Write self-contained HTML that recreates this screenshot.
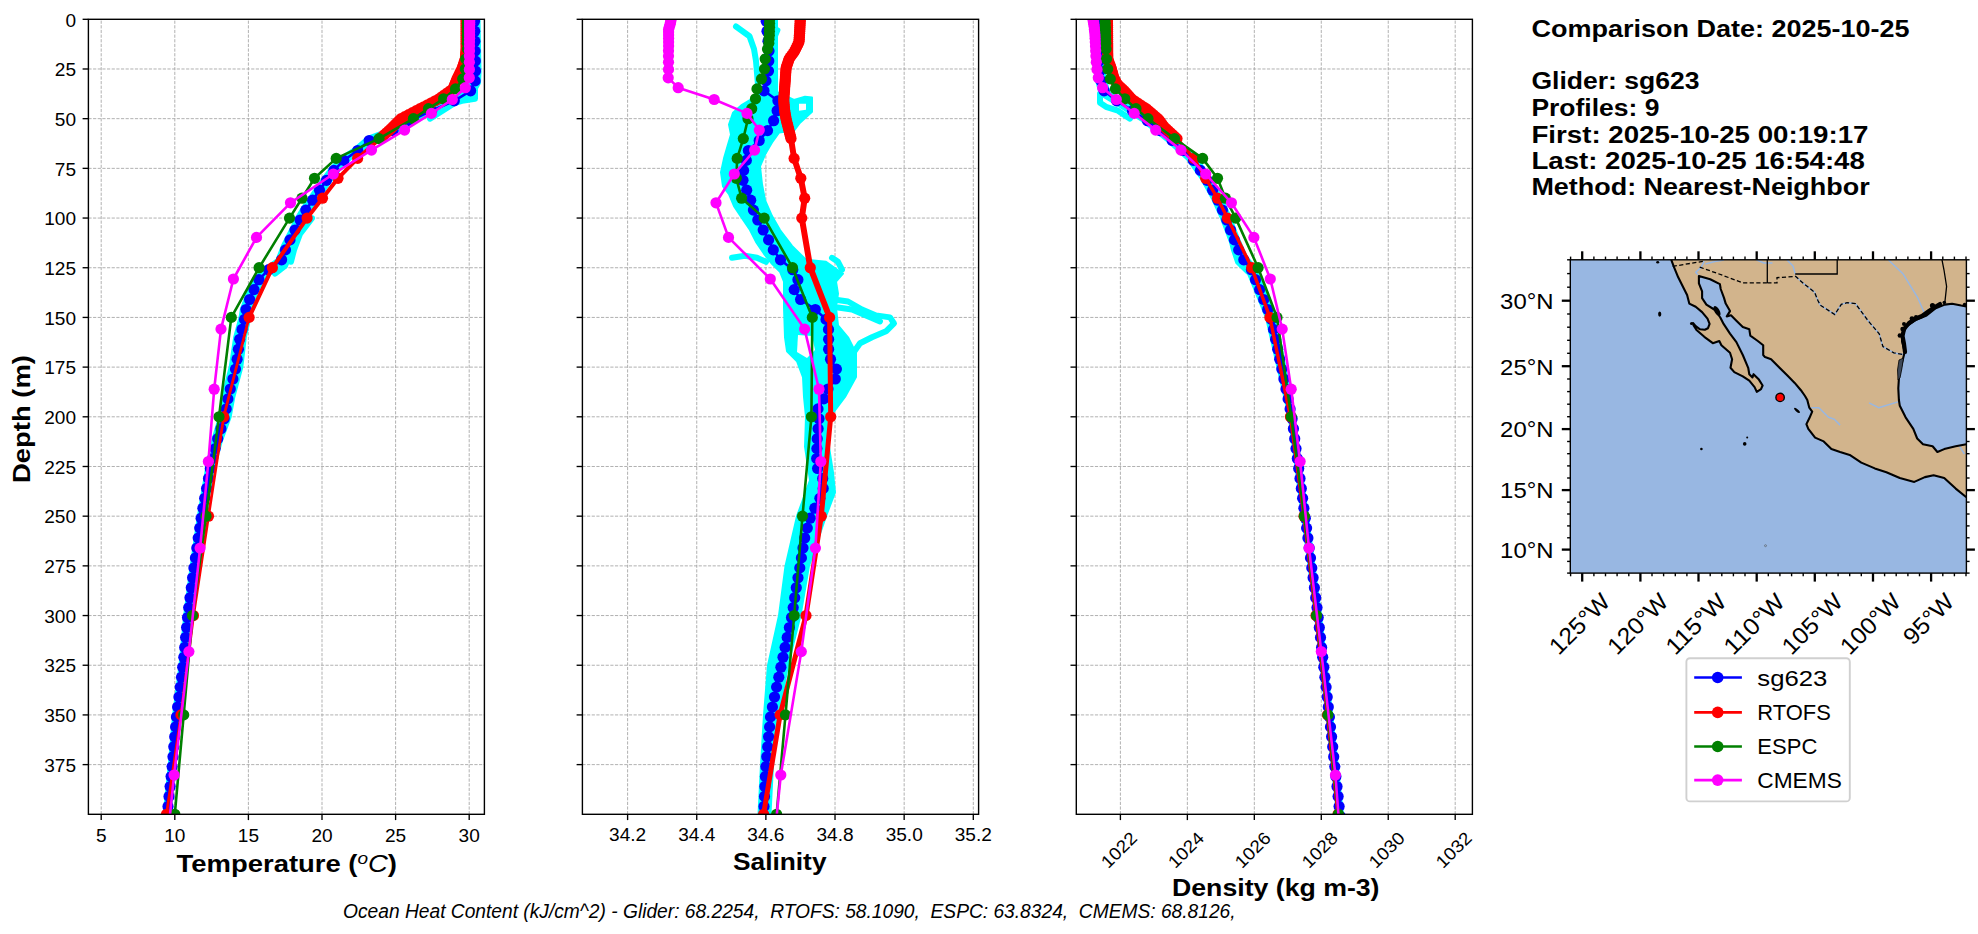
<!DOCTYPE html>
<html><head><meta charset="utf-8"><title>Profile comparison</title>
<style>html,body{margin:0;padding:0;background:#fff;overflow:hidden}svg{display:block}text{font-family:"Liberation Sans",sans-serif}</style>
</head><body>
<svg width="1978" height="934" viewBox="0 0 1978 934" font-family='"Liberation Sans", sans-serif'><defs><clipPath id="c0"><rect x="88.4" y="19.3" width="396.0" height="795.0"/></clipPath><clipPath id="c1"><rect x="582.4" y="19.3" width="396.20000000000005" height="795.0"/></clipPath><clipPath id="c2"><rect x="1076.3" y="19.3" width="396.10000000000014" height="795.0"/></clipPath></defs>
<rect x="0" y="0" width="1978" height="934" fill="#ffffff"/>
<line x1="88.4" y1="68.99" x2="484.4" y2="68.99" stroke="#a8a8a8" stroke-width="0.9" stroke-dasharray="3.2,1.45" fill="none"/>
<line x1="88.4" y1="118.67" x2="484.4" y2="118.67" stroke="#a8a8a8" stroke-width="0.9" stroke-dasharray="3.2,1.45" fill="none"/>
<line x1="88.4" y1="168.36" x2="484.4" y2="168.36" stroke="#a8a8a8" stroke-width="0.9" stroke-dasharray="3.2,1.45" fill="none"/>
<line x1="88.4" y1="218.05" x2="484.4" y2="218.05" stroke="#a8a8a8" stroke-width="0.9" stroke-dasharray="3.2,1.45" fill="none"/>
<line x1="88.4" y1="267.74" x2="484.4" y2="267.74" stroke="#a8a8a8" stroke-width="0.9" stroke-dasharray="3.2,1.45" fill="none"/>
<line x1="88.4" y1="317.43" x2="484.4" y2="317.43" stroke="#a8a8a8" stroke-width="0.9" stroke-dasharray="3.2,1.45" fill="none"/>
<line x1="88.4" y1="367.11" x2="484.4" y2="367.11" stroke="#a8a8a8" stroke-width="0.9" stroke-dasharray="3.2,1.45" fill="none"/>
<line x1="88.4" y1="416.80" x2="484.4" y2="416.80" stroke="#a8a8a8" stroke-width="0.9" stroke-dasharray="3.2,1.45" fill="none"/>
<line x1="88.4" y1="466.49" x2="484.4" y2="466.49" stroke="#a8a8a8" stroke-width="0.9" stroke-dasharray="3.2,1.45" fill="none"/>
<line x1="88.4" y1="516.17" x2="484.4" y2="516.17" stroke="#a8a8a8" stroke-width="0.9" stroke-dasharray="3.2,1.45" fill="none"/>
<line x1="88.4" y1="565.86" x2="484.4" y2="565.86" stroke="#a8a8a8" stroke-width="0.9" stroke-dasharray="3.2,1.45" fill="none"/>
<line x1="88.4" y1="615.55" x2="484.4" y2="615.55" stroke="#a8a8a8" stroke-width="0.9" stroke-dasharray="3.2,1.45" fill="none"/>
<line x1="88.4" y1="665.24" x2="484.4" y2="665.24" stroke="#a8a8a8" stroke-width="0.9" stroke-dasharray="3.2,1.45" fill="none"/>
<line x1="88.4" y1="714.92" x2="484.4" y2="714.92" stroke="#a8a8a8" stroke-width="0.9" stroke-dasharray="3.2,1.45" fill="none"/>
<line x1="88.4" y1="764.61" x2="484.4" y2="764.61" stroke="#a8a8a8" stroke-width="0.9" stroke-dasharray="3.2,1.45" fill="none"/>
<line x1="101.20" y1="814.3" x2="101.20" y2="19.3" stroke="#a8a8a8" stroke-width="0.9" stroke-dasharray="3.2,1.45" fill="none"/>
<line x1="174.80" y1="814.3" x2="174.80" y2="19.3" stroke="#a8a8a8" stroke-width="0.9" stroke-dasharray="3.2,1.45" fill="none"/>
<line x1="248.40" y1="814.3" x2="248.40" y2="19.3" stroke="#a8a8a8" stroke-width="0.9" stroke-dasharray="3.2,1.45" fill="none"/>
<line x1="322.00" y1="814.3" x2="322.00" y2="19.3" stroke="#a8a8a8" stroke-width="0.9" stroke-dasharray="3.2,1.45" fill="none"/>
<line x1="395.60" y1="814.3" x2="395.60" y2="19.3" stroke="#a8a8a8" stroke-width="0.9" stroke-dasharray="3.2,1.45" fill="none"/>
<line x1="469.20" y1="814.3" x2="469.20" y2="19.3" stroke="#a8a8a8" stroke-width="0.9" stroke-dasharray="3.2,1.45" fill="none"/>
<line x1="582.4" y1="68.99" x2="978.6" y2="68.99" stroke="#a8a8a8" stroke-width="0.9" stroke-dasharray="3.2,1.45" fill="none"/>
<line x1="582.4" y1="118.67" x2="978.6" y2="118.67" stroke="#a8a8a8" stroke-width="0.9" stroke-dasharray="3.2,1.45" fill="none"/>
<line x1="582.4" y1="168.36" x2="978.6" y2="168.36" stroke="#a8a8a8" stroke-width="0.9" stroke-dasharray="3.2,1.45" fill="none"/>
<line x1="582.4" y1="218.05" x2="978.6" y2="218.05" stroke="#a8a8a8" stroke-width="0.9" stroke-dasharray="3.2,1.45" fill="none"/>
<line x1="582.4" y1="267.74" x2="978.6" y2="267.74" stroke="#a8a8a8" stroke-width="0.9" stroke-dasharray="3.2,1.45" fill="none"/>
<line x1="582.4" y1="317.43" x2="978.6" y2="317.43" stroke="#a8a8a8" stroke-width="0.9" stroke-dasharray="3.2,1.45" fill="none"/>
<line x1="582.4" y1="367.11" x2="978.6" y2="367.11" stroke="#a8a8a8" stroke-width="0.9" stroke-dasharray="3.2,1.45" fill="none"/>
<line x1="582.4" y1="416.80" x2="978.6" y2="416.80" stroke="#a8a8a8" stroke-width="0.9" stroke-dasharray="3.2,1.45" fill="none"/>
<line x1="582.4" y1="466.49" x2="978.6" y2="466.49" stroke="#a8a8a8" stroke-width="0.9" stroke-dasharray="3.2,1.45" fill="none"/>
<line x1="582.4" y1="516.17" x2="978.6" y2="516.17" stroke="#a8a8a8" stroke-width="0.9" stroke-dasharray="3.2,1.45" fill="none"/>
<line x1="582.4" y1="565.86" x2="978.6" y2="565.86" stroke="#a8a8a8" stroke-width="0.9" stroke-dasharray="3.2,1.45" fill="none"/>
<line x1="582.4" y1="615.55" x2="978.6" y2="615.55" stroke="#a8a8a8" stroke-width="0.9" stroke-dasharray="3.2,1.45" fill="none"/>
<line x1="582.4" y1="665.24" x2="978.6" y2="665.24" stroke="#a8a8a8" stroke-width="0.9" stroke-dasharray="3.2,1.45" fill="none"/>
<line x1="582.4" y1="714.92" x2="978.6" y2="714.92" stroke="#a8a8a8" stroke-width="0.9" stroke-dasharray="3.2,1.45" fill="none"/>
<line x1="582.4" y1="764.61" x2="978.6" y2="764.61" stroke="#a8a8a8" stroke-width="0.9" stroke-dasharray="3.2,1.45" fill="none"/>
<line x1="627.60" y1="814.3" x2="627.60" y2="19.3" stroke="#a8a8a8" stroke-width="0.9" stroke-dasharray="3.2,1.45" fill="none"/>
<line x1="696.74" y1="814.3" x2="696.74" y2="19.3" stroke="#a8a8a8" stroke-width="0.9" stroke-dasharray="3.2,1.45" fill="none"/>
<line x1="765.88" y1="814.3" x2="765.88" y2="19.3" stroke="#a8a8a8" stroke-width="0.9" stroke-dasharray="3.2,1.45" fill="none"/>
<line x1="835.02" y1="814.3" x2="835.02" y2="19.3" stroke="#a8a8a8" stroke-width="0.9" stroke-dasharray="3.2,1.45" fill="none"/>
<line x1="904.16" y1="814.3" x2="904.16" y2="19.3" stroke="#a8a8a8" stroke-width="0.9" stroke-dasharray="3.2,1.45" fill="none"/>
<line x1="973.30" y1="814.3" x2="973.30" y2="19.3" stroke="#a8a8a8" stroke-width="0.9" stroke-dasharray="3.2,1.45" fill="none"/>
<line x1="1076.3" y1="68.99" x2="1472.4" y2="68.99" stroke="#a8a8a8" stroke-width="0.9" stroke-dasharray="3.2,1.45" fill="none"/>
<line x1="1076.3" y1="118.67" x2="1472.4" y2="118.67" stroke="#a8a8a8" stroke-width="0.9" stroke-dasharray="3.2,1.45" fill="none"/>
<line x1="1076.3" y1="168.36" x2="1472.4" y2="168.36" stroke="#a8a8a8" stroke-width="0.9" stroke-dasharray="3.2,1.45" fill="none"/>
<line x1="1076.3" y1="218.05" x2="1472.4" y2="218.05" stroke="#a8a8a8" stroke-width="0.9" stroke-dasharray="3.2,1.45" fill="none"/>
<line x1="1076.3" y1="267.74" x2="1472.4" y2="267.74" stroke="#a8a8a8" stroke-width="0.9" stroke-dasharray="3.2,1.45" fill="none"/>
<line x1="1076.3" y1="317.43" x2="1472.4" y2="317.43" stroke="#a8a8a8" stroke-width="0.9" stroke-dasharray="3.2,1.45" fill="none"/>
<line x1="1076.3" y1="367.11" x2="1472.4" y2="367.11" stroke="#a8a8a8" stroke-width="0.9" stroke-dasharray="3.2,1.45" fill="none"/>
<line x1="1076.3" y1="416.80" x2="1472.4" y2="416.80" stroke="#a8a8a8" stroke-width="0.9" stroke-dasharray="3.2,1.45" fill="none"/>
<line x1="1076.3" y1="466.49" x2="1472.4" y2="466.49" stroke="#a8a8a8" stroke-width="0.9" stroke-dasharray="3.2,1.45" fill="none"/>
<line x1="1076.3" y1="516.17" x2="1472.4" y2="516.17" stroke="#a8a8a8" stroke-width="0.9" stroke-dasharray="3.2,1.45" fill="none"/>
<line x1="1076.3" y1="565.86" x2="1472.4" y2="565.86" stroke="#a8a8a8" stroke-width="0.9" stroke-dasharray="3.2,1.45" fill="none"/>
<line x1="1076.3" y1="615.55" x2="1472.4" y2="615.55" stroke="#a8a8a8" stroke-width="0.9" stroke-dasharray="3.2,1.45" fill="none"/>
<line x1="1076.3" y1="665.24" x2="1472.4" y2="665.24" stroke="#a8a8a8" stroke-width="0.9" stroke-dasharray="3.2,1.45" fill="none"/>
<line x1="1076.3" y1="714.92" x2="1472.4" y2="714.92" stroke="#a8a8a8" stroke-width="0.9" stroke-dasharray="3.2,1.45" fill="none"/>
<line x1="1076.3" y1="764.61" x2="1472.4" y2="764.61" stroke="#a8a8a8" stroke-width="0.9" stroke-dasharray="3.2,1.45" fill="none"/>
<line x1="1120.40" y1="814.3" x2="1120.40" y2="19.3" stroke="#a8a8a8" stroke-width="0.9" stroke-dasharray="3.2,1.45" fill="none"/>
<line x1="1187.36" y1="814.3" x2="1187.36" y2="19.3" stroke="#a8a8a8" stroke-width="0.9" stroke-dasharray="3.2,1.45" fill="none"/>
<line x1="1254.32" y1="814.3" x2="1254.32" y2="19.3" stroke="#a8a8a8" stroke-width="0.9" stroke-dasharray="3.2,1.45" fill="none"/>
<line x1="1321.28" y1="814.3" x2="1321.28" y2="19.3" stroke="#a8a8a8" stroke-width="0.9" stroke-dasharray="3.2,1.45" fill="none"/>
<line x1="1388.24" y1="814.3" x2="1388.24" y2="19.3" stroke="#a8a8a8" stroke-width="0.9" stroke-dasharray="3.2,1.45" fill="none"/>
<line x1="1455.20" y1="814.3" x2="1455.20" y2="19.3" stroke="#a8a8a8" stroke-width="0.9" stroke-dasharray="3.2,1.45" fill="none"/>
<g clip-path="url(#c0)"><polyline points="477.5,19.3 478.5,72.0 478.0,82.5 472.5,92.8 449.0,105.2 423.0,115.3 397.0,130.2 374.0,138.9 361.3,150.1 349.7,157.6 338.4,168.4 328.0,182.3 317.0,198.2 310.0,208.1 304.1,218.1 296.0,234.0 290.0,245.9 284.3,260.6 268.9,271.7 262.0,279.5 257.0,289.6 252.7,299.1 249.2,309.5 248.4,317.4 243.8,337.3 240.3,367.1 232.3,396.9 228.7,416.8 219.9,440.7 212.9,466.5 202.9,516.2 195.7,565.9 189.2,615.5 184.5,665.2 178.1,714.9 173.8,764.6 168.7,814.3 153.5,1013.0" fill="none" stroke="#00ffff" stroke-width="6" stroke-linejoin="round" stroke-linecap="round" />
<polyline points="471.5,19.3 472.5,72.0 472.0,82.5 466.5,92.8 443.0,105.2 417.0,115.3 391.0,130.2 368.0,138.9 355.3,150.1 343.7,157.6 332.4,168.4 322.0,182.3 311.0,198.2 304.0,208.1 298.1,218.1 290.0,234.0 284.0,245.9 278.3,260.6 262.9,271.7 256.0,279.5 251.0,289.6 246.7,299.1 242.8,309.5 241.6,317.4 236.2,337.3 231.7,367.1 224.1,396.9 221.2,416.8 214.1,440.7 208.4,466.5 199.9,516.2 192.7,565.9 186.2,615.5 181.5,665.2 175.1,714.9 170.8,764.6 165.7,814.3 150.5,1013.0" fill="none" stroke="#00ffff" stroke-width="6" stroke-linejoin="round" stroke-linecap="round" />
<polyline points="475.0,19.3 475.0,98.8 462.0,100.8 448.0,104.8 430.0,114.7" fill="none" stroke="#00ffff" stroke-width="6" stroke-linejoin="round" stroke-linecap="round" />
<polyline points="468.0,19.3 468.0,90.8 452.0,104.8 430.0,118.7" fill="none" stroke="#00ffff" stroke-width="6" stroke-linejoin="round" stroke-linecap="round" />
<polyline points="300.0,228.0 293.0,241.9 290.0,253.8 285.0,265.8 275.0,273.7" fill="none" stroke="#00ffff" stroke-width="6" stroke-linejoin="round" stroke-linecap="round" />
<polyline points="312.0,218.1 300.0,234.0 294.0,249.9 291.0,261.8" fill="none" stroke="#00ffff" stroke-width="6" stroke-linejoin="round" stroke-linecap="round" />
<polyline points="474.5,21.3 474.7,31.2 474.9,41.2 475.1,51.1 475.3,61.0 475.5,71.0 475.1,80.9 470.6,90.8 454.3,100.8 431.7,110.7 410.6,120.7 393.0,130.6 369.2,140.5 357.7,150.5 343.8,160.4 333.9,170.4 326.5,180.3 319.5,190.2 312.6,200.2 305.8,210.1 300.1,220.0 295.0,230.0 290.0,239.9 285.5,249.9 281.6,259.8 268.6,269.7 258.9,279.7 254.0,289.6 249.6,299.5 246.0,309.5 244.5,319.4 242.0,329.4 239.7,339.3 238.4,349.2 237.1,359.2 235.5,369.1 232.9,379.0 230.3,389.0 227.9,398.9 226.2,408.9 224.2,418.8 220.9,428.7 217.7,438.7 215.1,448.6 212.6,458.5 210.3,468.5 208.5,478.4 206.6,488.4 204.7,498.3 202.9,508.2 201.1,518.2 199.7,528.1 198.2,538.0 196.8,548.0 195.4,557.9 193.9,567.9 192.6,577.8 191.3,587.7 190.0,597.7 188.7,607.6 187.5,617.5 186.6,627.5 185.6,637.4 184.7,647.4 183.8,657.3 182.7,667.2 181.5,677.2 180.2,687.1 178.9,697.0 177.6,707.0 176.4,716.9 175.6,726.9 174.7,736.8 173.8,746.7 173.0,756.7 172.1,766.6 171.1,776.5 170.1,786.5 169.0,796.4 168.0,806.4 167.0,816.3 166.3,826.2 165.5,836.2 164.8,846.1 164.0,856.0 163.2,866.0 162.5,875.9 161.7,885.9 161.0,895.8 160.2,905.7" fill="none" stroke="#0000ff" stroke-width="2.6" stroke-linejoin="round" stroke-linecap="round" />
<circle cx="474.5" cy="21.3" r="5.6" fill="#0000ff"/>
<circle cx="474.7" cy="31.2" r="5.6" fill="#0000ff"/>
<circle cx="474.9" cy="41.2" r="5.6" fill="#0000ff"/>
<circle cx="475.1" cy="51.1" r="5.6" fill="#0000ff"/>
<circle cx="475.3" cy="61.0" r="5.6" fill="#0000ff"/>
<circle cx="475.5" cy="71.0" r="5.6" fill="#0000ff"/>
<circle cx="475.1" cy="80.9" r="5.6" fill="#0000ff"/>
<circle cx="470.6" cy="90.8" r="5.6" fill="#0000ff"/>
<circle cx="454.3" cy="100.8" r="5.6" fill="#0000ff"/>
<circle cx="431.7" cy="110.7" r="5.6" fill="#0000ff"/>
<circle cx="410.6" cy="120.7" r="5.6" fill="#0000ff"/>
<circle cx="393.0" cy="130.6" r="5.6" fill="#0000ff"/>
<circle cx="369.2" cy="140.5" r="5.6" fill="#0000ff"/>
<circle cx="357.7" cy="150.5" r="5.6" fill="#0000ff"/>
<circle cx="343.8" cy="160.4" r="5.6" fill="#0000ff"/>
<circle cx="333.9" cy="170.4" r="5.6" fill="#0000ff"/>
<circle cx="326.5" cy="180.3" r="5.6" fill="#0000ff"/>
<circle cx="319.5" cy="190.2" r="5.6" fill="#0000ff"/>
<circle cx="312.6" cy="200.2" r="5.6" fill="#0000ff"/>
<circle cx="305.8" cy="210.1" r="5.6" fill="#0000ff"/>
<circle cx="300.1" cy="220.0" r="5.6" fill="#0000ff"/>
<circle cx="295.0" cy="230.0" r="5.6" fill="#0000ff"/>
<circle cx="290.0" cy="239.9" r="5.6" fill="#0000ff"/>
<circle cx="285.5" cy="249.9" r="5.6" fill="#0000ff"/>
<circle cx="281.6" cy="259.8" r="5.6" fill="#0000ff"/>
<circle cx="268.6" cy="269.7" r="5.6" fill="#0000ff"/>
<circle cx="258.9" cy="279.7" r="5.6" fill="#0000ff"/>
<circle cx="254.0" cy="289.6" r="5.6" fill="#0000ff"/>
<circle cx="249.6" cy="299.5" r="5.6" fill="#0000ff"/>
<circle cx="246.0" cy="309.5" r="5.6" fill="#0000ff"/>
<circle cx="244.5" cy="319.4" r="5.6" fill="#0000ff"/>
<circle cx="242.0" cy="329.4" r="5.6" fill="#0000ff"/>
<circle cx="239.7" cy="339.3" r="5.6" fill="#0000ff"/>
<circle cx="238.4" cy="349.2" r="5.6" fill="#0000ff"/>
<circle cx="237.1" cy="359.2" r="5.6" fill="#0000ff"/>
<circle cx="235.5" cy="369.1" r="5.6" fill="#0000ff"/>
<circle cx="232.9" cy="379.0" r="5.6" fill="#0000ff"/>
<circle cx="230.3" cy="389.0" r="5.6" fill="#0000ff"/>
<circle cx="227.9" cy="398.9" r="5.6" fill="#0000ff"/>
<circle cx="226.2" cy="408.9" r="5.6" fill="#0000ff"/>
<circle cx="224.2" cy="418.8" r="5.6" fill="#0000ff"/>
<circle cx="220.9" cy="428.7" r="5.6" fill="#0000ff"/>
<circle cx="217.7" cy="438.7" r="5.6" fill="#0000ff"/>
<circle cx="215.1" cy="448.6" r="5.6" fill="#0000ff"/>
<circle cx="212.6" cy="458.5" r="5.6" fill="#0000ff"/>
<circle cx="210.3" cy="468.5" r="5.6" fill="#0000ff"/>
<circle cx="208.5" cy="478.4" r="5.6" fill="#0000ff"/>
<circle cx="206.6" cy="488.4" r="5.6" fill="#0000ff"/>
<circle cx="204.7" cy="498.3" r="5.6" fill="#0000ff"/>
<circle cx="202.9" cy="508.2" r="5.6" fill="#0000ff"/>
<circle cx="201.1" cy="518.2" r="5.6" fill="#0000ff"/>
<circle cx="199.7" cy="528.1" r="5.6" fill="#0000ff"/>
<circle cx="198.2" cy="538.0" r="5.6" fill="#0000ff"/>
<circle cx="196.8" cy="548.0" r="5.6" fill="#0000ff"/>
<circle cx="195.4" cy="557.9" r="5.6" fill="#0000ff"/>
<circle cx="193.9" cy="567.9" r="5.6" fill="#0000ff"/>
<circle cx="192.6" cy="577.8" r="5.6" fill="#0000ff"/>
<circle cx="191.3" cy="587.7" r="5.6" fill="#0000ff"/>
<circle cx="190.0" cy="597.7" r="5.6" fill="#0000ff"/>
<circle cx="188.7" cy="607.6" r="5.6" fill="#0000ff"/>
<circle cx="187.5" cy="617.5" r="5.6" fill="#0000ff"/>
<circle cx="186.6" cy="627.5" r="5.6" fill="#0000ff"/>
<circle cx="185.6" cy="637.4" r="5.6" fill="#0000ff"/>
<circle cx="184.7" cy="647.4" r="5.6" fill="#0000ff"/>
<circle cx="183.8" cy="657.3" r="5.6" fill="#0000ff"/>
<circle cx="182.7" cy="667.2" r="5.6" fill="#0000ff"/>
<circle cx="181.5" cy="677.2" r="5.6" fill="#0000ff"/>
<circle cx="180.2" cy="687.1" r="5.6" fill="#0000ff"/>
<circle cx="178.9" cy="697.0" r="5.6" fill="#0000ff"/>
<circle cx="177.6" cy="707.0" r="5.6" fill="#0000ff"/>
<circle cx="176.4" cy="716.9" r="5.6" fill="#0000ff"/>
<circle cx="175.6" cy="726.9" r="5.6" fill="#0000ff"/>
<circle cx="174.7" cy="736.8" r="5.6" fill="#0000ff"/>
<circle cx="173.8" cy="746.7" r="5.6" fill="#0000ff"/>
<circle cx="173.0" cy="756.7" r="5.6" fill="#0000ff"/>
<circle cx="172.1" cy="766.6" r="5.6" fill="#0000ff"/>
<circle cx="171.1" cy="776.5" r="5.6" fill="#0000ff"/>
<circle cx="170.1" cy="786.5" r="5.6" fill="#0000ff"/>
<circle cx="169.0" cy="796.4" r="5.6" fill="#0000ff"/>
<circle cx="168.0" cy="806.4" r="5.6" fill="#0000ff"/>
<circle cx="167.0" cy="816.3" r="5.6" fill="#0000ff"/>
<circle cx="166.3" cy="826.2" r="5.6" fill="#0000ff"/>
<circle cx="165.5" cy="836.2" r="5.6" fill="#0000ff"/>
<circle cx="164.8" cy="846.1" r="5.6" fill="#0000ff"/>
<circle cx="164.0" cy="856.0" r="5.6" fill="#0000ff"/>
<circle cx="163.2" cy="866.0" r="5.6" fill="#0000ff"/>
<circle cx="162.5" cy="875.9" r="5.6" fill="#0000ff"/>
<circle cx="161.7" cy="885.9" r="5.6" fill="#0000ff"/>
<circle cx="161.0" cy="895.8" r="5.6" fill="#0000ff"/>
<circle cx="160.2" cy="905.7" r="5.6" fill="#0000ff"/>
<polyline points="466.1,19.3 466.1,21.3 466.1,23.3 466.1,25.3 466.1,27.2 466.1,29.2 466.1,31.2 466.1,33.2 466.1,35.2 466.1,37.2 466.1,39.2 466.1,41.2 466.1,43.2 466.1,45.1 466.1,47.1 466.1,49.1 465.9,51.1 465.8,53.1 465.6,55.1 465.5,57.1 465.3,59.0 464.6,61.0 463.9,63.0 463.3,65.0 462.6,67.0 461.9,69.0 460.9,71.0 459.9,73.0 459.0,75.0 458.0,76.9 457.0,78.9 456.2,80.9 455.4,82.9 454.6,84.9 453.8,86.9 453.0,88.9 450.2,90.8 447.4,92.8 444.6,94.8 441.8,96.8 439.0,98.8 435.2,100.8 431.4,102.8 427.6,104.8 423.8,106.8 420.0,108.7 416.2,110.7 412.4,112.7 408.6,114.7 404.8,116.7 401.0,118.7 399.0,120.7 397.0,122.7 395.0,124.6 393.0,126.6 391.0,128.6 388.8,130.6 386.6,132.6 384.4,134.6 382.2,136.6 380.0,138.6 357.6,158.4 338.0,178.3 322.5,198.2 307.1,218.1 272.4,267.7 249.1,317.4" fill="none" stroke="#ff0000" stroke-width="4" stroke-linejoin="round" stroke-linecap="round" />
<polyline points="249.1,317.4 223.7,416.8 208.5,516.2 193.5,615.5 181.0,714.9 166.5,814.3 150.0,1013.0" fill="none" stroke="#ff0000" stroke-width="2.8" stroke-linejoin="round" stroke-linecap="round" />
<circle cx="466.1" cy="19.3" r="5.6" fill="#ff0000"/>
<circle cx="466.1" cy="21.3" r="5.6" fill="#ff0000"/>
<circle cx="466.1" cy="23.3" r="5.6" fill="#ff0000"/>
<circle cx="466.1" cy="25.3" r="5.6" fill="#ff0000"/>
<circle cx="466.1" cy="27.2" r="5.6" fill="#ff0000"/>
<circle cx="466.1" cy="29.2" r="5.6" fill="#ff0000"/>
<circle cx="466.1" cy="31.2" r="5.6" fill="#ff0000"/>
<circle cx="466.1" cy="33.2" r="5.6" fill="#ff0000"/>
<circle cx="466.1" cy="35.2" r="5.6" fill="#ff0000"/>
<circle cx="466.1" cy="37.2" r="5.6" fill="#ff0000"/>
<circle cx="466.1" cy="39.2" r="5.6" fill="#ff0000"/>
<circle cx="466.1" cy="41.2" r="5.6" fill="#ff0000"/>
<circle cx="466.1" cy="43.2" r="5.6" fill="#ff0000"/>
<circle cx="466.1" cy="45.1" r="5.6" fill="#ff0000"/>
<circle cx="466.1" cy="47.1" r="5.6" fill="#ff0000"/>
<circle cx="466.1" cy="49.1" r="5.6" fill="#ff0000"/>
<circle cx="465.9" cy="51.1" r="5.6" fill="#ff0000"/>
<circle cx="465.8" cy="53.1" r="5.6" fill="#ff0000"/>
<circle cx="465.6" cy="55.1" r="5.6" fill="#ff0000"/>
<circle cx="465.5" cy="57.1" r="5.6" fill="#ff0000"/>
<circle cx="465.3" cy="59.0" r="5.6" fill="#ff0000"/>
<circle cx="464.6" cy="61.0" r="5.6" fill="#ff0000"/>
<circle cx="463.9" cy="63.0" r="5.6" fill="#ff0000"/>
<circle cx="463.3" cy="65.0" r="5.6" fill="#ff0000"/>
<circle cx="462.6" cy="67.0" r="5.6" fill="#ff0000"/>
<circle cx="461.9" cy="69.0" r="5.6" fill="#ff0000"/>
<circle cx="460.9" cy="71.0" r="5.6" fill="#ff0000"/>
<circle cx="459.9" cy="73.0" r="5.6" fill="#ff0000"/>
<circle cx="459.0" cy="75.0" r="5.6" fill="#ff0000"/>
<circle cx="458.0" cy="76.9" r="5.6" fill="#ff0000"/>
<circle cx="457.0" cy="78.9" r="5.6" fill="#ff0000"/>
<circle cx="456.2" cy="80.9" r="5.6" fill="#ff0000"/>
<circle cx="455.4" cy="82.9" r="5.6" fill="#ff0000"/>
<circle cx="454.6" cy="84.9" r="5.6" fill="#ff0000"/>
<circle cx="453.8" cy="86.9" r="5.6" fill="#ff0000"/>
<circle cx="453.0" cy="88.9" r="5.6" fill="#ff0000"/>
<circle cx="450.2" cy="90.8" r="5.6" fill="#ff0000"/>
<circle cx="447.4" cy="92.8" r="5.6" fill="#ff0000"/>
<circle cx="444.6" cy="94.8" r="5.6" fill="#ff0000"/>
<circle cx="441.8" cy="96.8" r="5.6" fill="#ff0000"/>
<circle cx="439.0" cy="98.8" r="5.6" fill="#ff0000"/>
<circle cx="435.2" cy="100.8" r="5.6" fill="#ff0000"/>
<circle cx="431.4" cy="102.8" r="5.6" fill="#ff0000"/>
<circle cx="427.6" cy="104.8" r="5.6" fill="#ff0000"/>
<circle cx="423.8" cy="106.8" r="5.6" fill="#ff0000"/>
<circle cx="420.0" cy="108.7" r="5.6" fill="#ff0000"/>
<circle cx="416.2" cy="110.7" r="5.6" fill="#ff0000"/>
<circle cx="412.4" cy="112.7" r="5.6" fill="#ff0000"/>
<circle cx="408.6" cy="114.7" r="5.6" fill="#ff0000"/>
<circle cx="404.8" cy="116.7" r="5.6" fill="#ff0000"/>
<circle cx="401.0" cy="118.7" r="5.6" fill="#ff0000"/>
<circle cx="399.0" cy="120.7" r="5.6" fill="#ff0000"/>
<circle cx="397.0" cy="122.7" r="5.6" fill="#ff0000"/>
<circle cx="395.0" cy="124.6" r="5.6" fill="#ff0000"/>
<circle cx="393.0" cy="126.6" r="5.6" fill="#ff0000"/>
<circle cx="391.0" cy="128.6" r="5.6" fill="#ff0000"/>
<circle cx="388.8" cy="130.6" r="5.6" fill="#ff0000"/>
<circle cx="386.6" cy="132.6" r="5.6" fill="#ff0000"/>
<circle cx="384.4" cy="134.6" r="5.6" fill="#ff0000"/>
<circle cx="382.2" cy="136.6" r="5.6" fill="#ff0000"/>
<circle cx="380.0" cy="138.6" r="5.6" fill="#ff0000"/>
<circle cx="357.6" cy="158.4" r="5.6" fill="#ff0000"/>
<circle cx="338.0" cy="178.3" r="5.6" fill="#ff0000"/>
<circle cx="322.5" cy="198.2" r="5.6" fill="#ff0000"/>
<circle cx="307.1" cy="218.1" r="5.6" fill="#ff0000"/>
<circle cx="272.4" cy="267.7" r="5.6" fill="#ff0000"/>
<circle cx="249.1" cy="317.4" r="5.6" fill="#ff0000"/>
<circle cx="223.7" cy="416.8" r="5.6" fill="#ff0000"/>
<circle cx="208.5" cy="516.2" r="5.6" fill="#ff0000"/>
<circle cx="193.5" cy="615.5" r="5.6" fill="#ff0000"/>
<circle cx="181.0" cy="714.9" r="5.6" fill="#ff0000"/>
<circle cx="166.5" cy="814.3" r="5.6" fill="#ff0000"/>
<circle cx="150.0" cy="1013.0" r="5.6" fill="#ff0000"/>
<polyline points="467.4,19.3 467.4,23.3 467.4,27.2 467.4,31.2 467.4,35.2 467.4,39.2 467.4,43.2 467.4,49.1 465.7,59.0 465.3,69.0 462.7,78.9 455.5,88.9 443.6,98.8 428.5,108.7 413.4,118.7 379.0,138.6 336.2,158.4 314.5,178.3 302.0,198.2 289.5,218.1 259.1,267.7 231.3,317.4 219.0,416.8 206.0,516.2 192.5,615.5 183.7,714.9 174.8,814.3 157.0,1013.0" fill="none" stroke="#008000" stroke-width="2.6" stroke-linejoin="round" stroke-linecap="round" />
<circle cx="467.4" cy="19.3" r="5.6" fill="#008000"/>
<circle cx="467.4" cy="23.3" r="5.6" fill="#008000"/>
<circle cx="467.4" cy="27.2" r="5.6" fill="#008000"/>
<circle cx="467.4" cy="31.2" r="5.6" fill="#008000"/>
<circle cx="467.4" cy="35.2" r="5.6" fill="#008000"/>
<circle cx="467.4" cy="39.2" r="5.6" fill="#008000"/>
<circle cx="467.4" cy="43.2" r="5.6" fill="#008000"/>
<circle cx="467.4" cy="49.1" r="5.6" fill="#008000"/>
<circle cx="465.7" cy="59.0" r="5.6" fill="#008000"/>
<circle cx="465.3" cy="69.0" r="5.6" fill="#008000"/>
<circle cx="462.7" cy="78.9" r="5.6" fill="#008000"/>
<circle cx="455.5" cy="88.9" r="5.6" fill="#008000"/>
<circle cx="443.6" cy="98.8" r="5.6" fill="#008000"/>
<circle cx="428.5" cy="108.7" r="5.6" fill="#008000"/>
<circle cx="413.4" cy="118.7" r="5.6" fill="#008000"/>
<circle cx="379.0" cy="138.6" r="5.6" fill="#008000"/>
<circle cx="336.2" cy="158.4" r="5.6" fill="#008000"/>
<circle cx="314.5" cy="178.3" r="5.6" fill="#008000"/>
<circle cx="302.0" cy="198.2" r="5.6" fill="#008000"/>
<circle cx="289.5" cy="218.1" r="5.6" fill="#008000"/>
<circle cx="259.1" cy="267.7" r="5.6" fill="#008000"/>
<circle cx="231.3" cy="317.4" r="5.6" fill="#008000"/>
<circle cx="219.0" cy="416.8" r="5.6" fill="#008000"/>
<circle cx="206.0" cy="516.2" r="5.6" fill="#008000"/>
<circle cx="192.5" cy="615.5" r="5.6" fill="#008000"/>
<circle cx="183.7" cy="714.9" r="5.6" fill="#008000"/>
<circle cx="174.8" cy="814.3" r="5.6" fill="#008000"/>
<circle cx="157.0" cy="1013.0" r="5.6" fill="#008000"/>
<polyline points="469.7,20.3 469.7,22.4 469.7,24.6 469.6,26.9 469.6,29.4 469.6,32.1 469.6,35.1 469.6,38.3 469.5,42.0 469.5,46.1 469.5,50.7 469.4,56.1 469.4,62.2 469.4,69.4 469.3,77.8 465.3,87.7 452.3,99.5 431.4,113.4 404.6,130.1 371.5,150.1 333.3,174.0 290.5,202.8 256.5,237.4 233.4,279.0 221.0,329.1 214.2,389.2 208.4,461.5 200.1,548.1 188.9,651.6 174.1,775.0 159.0,921.5" fill="none" stroke="#ff00ff" stroke-width="2.6" stroke-linejoin="round" stroke-linecap="round" />
<circle cx="469.7" cy="20.3" r="5.6" fill="#ff00ff"/>
<circle cx="469.7" cy="22.4" r="5.6" fill="#ff00ff"/>
<circle cx="469.7" cy="24.6" r="5.6" fill="#ff00ff"/>
<circle cx="469.6" cy="26.9" r="5.6" fill="#ff00ff"/>
<circle cx="469.6" cy="29.4" r="5.6" fill="#ff00ff"/>
<circle cx="469.6" cy="32.1" r="5.6" fill="#ff00ff"/>
<circle cx="469.6" cy="35.1" r="5.6" fill="#ff00ff"/>
<circle cx="469.6" cy="38.3" r="5.6" fill="#ff00ff"/>
<circle cx="469.5" cy="42.0" r="5.6" fill="#ff00ff"/>
<circle cx="469.5" cy="46.1" r="5.6" fill="#ff00ff"/>
<circle cx="469.5" cy="50.7" r="5.6" fill="#ff00ff"/>
<circle cx="469.4" cy="56.1" r="5.6" fill="#ff00ff"/>
<circle cx="469.4" cy="62.2" r="5.6" fill="#ff00ff"/>
<circle cx="469.4" cy="69.4" r="5.6" fill="#ff00ff"/>
<circle cx="469.3" cy="77.8" r="5.6" fill="#ff00ff"/>
<circle cx="465.3" cy="87.7" r="5.6" fill="#ff00ff"/>
<circle cx="452.3" cy="99.5" r="5.6" fill="#ff00ff"/>
<circle cx="431.4" cy="113.4" r="5.6" fill="#ff00ff"/>
<circle cx="404.6" cy="130.1" r="5.6" fill="#ff00ff"/>
<circle cx="371.5" cy="150.1" r="5.6" fill="#ff00ff"/>
<circle cx="333.3" cy="174.0" r="5.6" fill="#ff00ff"/>
<circle cx="290.5" cy="202.8" r="5.6" fill="#ff00ff"/>
<circle cx="256.5" cy="237.4" r="5.6" fill="#ff00ff"/>
<circle cx="233.4" cy="279.0" r="5.6" fill="#ff00ff"/>
<circle cx="221.0" cy="329.1" r="5.6" fill="#ff00ff"/>
<circle cx="214.2" cy="389.2" r="5.6" fill="#ff00ff"/>
<circle cx="208.4" cy="461.5" r="5.6" fill="#ff00ff"/>
<circle cx="200.1" cy="548.1" r="5.6" fill="#ff00ff"/>
<circle cx="188.9" cy="651.6" r="5.6" fill="#ff00ff"/>
<circle cx="174.1" cy="775.0" r="5.6" fill="#ff00ff"/>
<circle cx="159.0" cy="921.5" r="5.6" fill="#ff00ff"/></g>
<g clip-path="url(#c1)"><polygon points="767.0,19.3 766.0,86.9 758.0,94.8 752.0,98.8 742.0,104.8 733.0,112.7 729.0,124.6 731.0,134.6 728.0,144.5 724.0,158.4 721.0,172.3 723.0,186.3 729.0,194.2 734.0,206.1 742.0,218.1 750.0,230.0 756.0,241.9 764.0,253.8 772.0,263.8 780.0,271.7 784.0,281.7 784.0,307.5 785.0,337.3 787.0,351.2 797.0,361.2 803.0,377.1 804.0,396.9 806.0,416.8 805.0,446.6 810.0,480.4 797.0,516.2 785.5,565.9 779.0,615.5 768.0,665.2 764.0,714.9 761.0,764.6 758.5,814.3 757.0,854.0 768.0,854.0 770.5,814.3 773.0,764.6 779.0,714.9 788.0,665.2 800.5,615.5 809.0,565.9 826.0,516.2 835.0,492.3 833.0,472.5 828.0,440.7 830.0,416.8 845.0,396.9 856.0,377.1 856.0,353.2 848.0,337.3 838.0,325.4 836.0,307.5 838.0,293.6 836.0,281.7 843.0,273.7 826.0,261.8 806.0,259.8 792.0,245.9 780.0,230.0 772.0,216.1 765.0,200.2 762.0,184.3 760.0,166.4 765.0,154.5 772.0,142.5 779.0,132.6 794.0,130.6 800.0,122.7 812.0,111.7 812.0,97.6 805.0,96.8 794.0,100.0 777.0,91.8 777.0,19.3" fill="#00ffff" stroke="#00ffff" stroke-width="2" stroke-linejoin="round"/>
<polygon points="799.0,103.8 806.0,103.8 806.0,109.7 799.0,110.7" fill="#ffffff"/>
<polygon points="798.0,334.9 812.0,335.9 815.0,350.0 807.0,358.0 797.0,352.0" fill="#ffffff"/>
<polyline points="736.0,26.5 749.5,36.2 754.0,49.1 756.0,61.0 757.0,73.0 758.0,84.9 762.0,94.8" fill="none" stroke="#00ffff" stroke-width="6" stroke-linejoin="round" stroke-linecap="round" />
<polyline points="777.4,30.2 772.0,43.2" fill="none" stroke="#00ffff" stroke-width="6" stroke-linejoin="round" stroke-linecap="round" />
<polyline points="732.0,257.8 745.0,255.8 757.0,257.8 766.0,261.8" fill="none" stroke="#00ffff" stroke-width="6" stroke-linejoin="round" stroke-linecap="round" />
<polyline points="834.0,299.5 848.0,301.5 862.0,309.5 876.0,315.4 890.0,317.4 894.0,323.4 886.0,331.3 872.0,337.3 860.0,343.3 853.0,353.2" fill="none" stroke="#00ffff" stroke-width="6" stroke-linejoin="round" stroke-linecap="round" />
<polyline points="838.0,307.5 852.0,309.5 866.0,315.4 880.0,321.4" fill="none" stroke="#00ffff" stroke-width="6" stroke-linejoin="round" stroke-linecap="round" />
<polyline points="842.0,269.7 838.0,261.8 832.0,257.8" fill="none" stroke="#00ffff" stroke-width="6" stroke-linejoin="round" stroke-linecap="round" />
<polyline points="766.2,21.3 767.0,31.2 768.0,41.2 769.0,51.1 768.8,61.0 768.5,71.0 766.0,80.9 764.0,90.8 777.9,100.8 777.1,110.7 773.6,120.7 767.5,130.6 759.2,140.5 748.4,150.5 746.3,160.4 743.6,170.4 743.0,180.3 746.7,190.2 750.7,200.2 753.4,210.1 757.8,220.0 763.2,230.0 768.6,239.9 773.3,249.9 780.5,259.8 792.8,269.7 797.9,279.7 794.2,289.6 800.6,299.5 815.3,309.5 826.0,319.4 828.5,329.4 828.6,339.3 828.6,349.2 830.5,359.2 836.4,369.1 835.3,379.0 828.0,389.0 823.8,398.9 818.0,408.9 819.0,418.8 818.1,428.7 817.2,438.7 816.9,448.6 816.7,458.5 817.6,468.5 822.7,478.4 823.2,488.4 819.9,498.3 814.8,508.2 810.1,518.2 807.3,528.1 804.7,538.0 803.0,548.0 801.4,557.9 799.8,567.9 798.0,577.8 796.3,587.7 794.7,597.7 793.2,607.6 791.5,617.5 789.4,627.5 787.2,637.4 785.1,647.4 783.0,657.3 780.9,667.2 778.8,677.2 776.6,687.1 774.5,697.0 772.4,707.0 770.5,716.9 769.6,726.9 768.6,736.8 767.7,746.7 766.8,756.7 765.9,766.6 765.4,776.5 764.9,786.5 764.5,796.4 764.0,806.4 763.5,816.3 763.1,826.2 762.7,836.2 762.2,846.1 761.8,856.0 761.4,866.0 760.9,875.9 760.5,885.9 760.1,895.8 759.6,905.7" fill="none" stroke="#0000ff" stroke-width="2.6" stroke-linejoin="round" stroke-linecap="round" />
<circle cx="766.2" cy="21.3" r="5.6" fill="#0000ff"/>
<circle cx="767.0" cy="31.2" r="5.6" fill="#0000ff"/>
<circle cx="768.0" cy="41.2" r="5.6" fill="#0000ff"/>
<circle cx="769.0" cy="51.1" r="5.6" fill="#0000ff"/>
<circle cx="768.8" cy="61.0" r="5.6" fill="#0000ff"/>
<circle cx="768.5" cy="71.0" r="5.6" fill="#0000ff"/>
<circle cx="766.0" cy="80.9" r="5.6" fill="#0000ff"/>
<circle cx="764.0" cy="90.8" r="5.6" fill="#0000ff"/>
<circle cx="777.9" cy="100.8" r="5.6" fill="#0000ff"/>
<circle cx="777.1" cy="110.7" r="5.6" fill="#0000ff"/>
<circle cx="773.6" cy="120.7" r="5.6" fill="#0000ff"/>
<circle cx="767.5" cy="130.6" r="5.6" fill="#0000ff"/>
<circle cx="759.2" cy="140.5" r="5.6" fill="#0000ff"/>
<circle cx="748.4" cy="150.5" r="5.6" fill="#0000ff"/>
<circle cx="746.3" cy="160.4" r="5.6" fill="#0000ff"/>
<circle cx="743.6" cy="170.4" r="5.6" fill="#0000ff"/>
<circle cx="743.0" cy="180.3" r="5.6" fill="#0000ff"/>
<circle cx="746.7" cy="190.2" r="5.6" fill="#0000ff"/>
<circle cx="750.7" cy="200.2" r="5.6" fill="#0000ff"/>
<circle cx="753.4" cy="210.1" r="5.6" fill="#0000ff"/>
<circle cx="757.8" cy="220.0" r="5.6" fill="#0000ff"/>
<circle cx="763.2" cy="230.0" r="5.6" fill="#0000ff"/>
<circle cx="768.6" cy="239.9" r="5.6" fill="#0000ff"/>
<circle cx="773.3" cy="249.9" r="5.6" fill="#0000ff"/>
<circle cx="780.5" cy="259.8" r="5.6" fill="#0000ff"/>
<circle cx="792.8" cy="269.7" r="5.6" fill="#0000ff"/>
<circle cx="797.9" cy="279.7" r="5.6" fill="#0000ff"/>
<circle cx="794.2" cy="289.6" r="5.6" fill="#0000ff"/>
<circle cx="800.6" cy="299.5" r="5.6" fill="#0000ff"/>
<circle cx="815.3" cy="309.5" r="5.6" fill="#0000ff"/>
<circle cx="826.0" cy="319.4" r="5.6" fill="#0000ff"/>
<circle cx="828.5" cy="329.4" r="5.6" fill="#0000ff"/>
<circle cx="828.6" cy="339.3" r="5.6" fill="#0000ff"/>
<circle cx="828.6" cy="349.2" r="5.6" fill="#0000ff"/>
<circle cx="830.5" cy="359.2" r="5.6" fill="#0000ff"/>
<circle cx="836.4" cy="369.1" r="5.6" fill="#0000ff"/>
<circle cx="835.3" cy="379.0" r="5.6" fill="#0000ff"/>
<circle cx="828.0" cy="389.0" r="5.6" fill="#0000ff"/>
<circle cx="823.8" cy="398.9" r="5.6" fill="#0000ff"/>
<circle cx="818.0" cy="408.9" r="5.6" fill="#0000ff"/>
<circle cx="819.0" cy="418.8" r="5.6" fill="#0000ff"/>
<circle cx="818.1" cy="428.7" r="5.6" fill="#0000ff"/>
<circle cx="817.2" cy="438.7" r="5.6" fill="#0000ff"/>
<circle cx="816.9" cy="448.6" r="5.6" fill="#0000ff"/>
<circle cx="816.7" cy="458.5" r="5.6" fill="#0000ff"/>
<circle cx="817.6" cy="468.5" r="5.6" fill="#0000ff"/>
<circle cx="822.7" cy="478.4" r="5.6" fill="#0000ff"/>
<circle cx="823.2" cy="488.4" r="5.6" fill="#0000ff"/>
<circle cx="819.9" cy="498.3" r="5.6" fill="#0000ff"/>
<circle cx="814.8" cy="508.2" r="5.6" fill="#0000ff"/>
<circle cx="810.1" cy="518.2" r="5.6" fill="#0000ff"/>
<circle cx="807.3" cy="528.1" r="5.6" fill="#0000ff"/>
<circle cx="804.7" cy="538.0" r="5.6" fill="#0000ff"/>
<circle cx="803.0" cy="548.0" r="5.6" fill="#0000ff"/>
<circle cx="801.4" cy="557.9" r="5.6" fill="#0000ff"/>
<circle cx="799.8" cy="567.9" r="5.6" fill="#0000ff"/>
<circle cx="798.0" cy="577.8" r="5.6" fill="#0000ff"/>
<circle cx="796.3" cy="587.7" r="5.6" fill="#0000ff"/>
<circle cx="794.7" cy="597.7" r="5.6" fill="#0000ff"/>
<circle cx="793.2" cy="607.6" r="5.6" fill="#0000ff"/>
<circle cx="791.5" cy="617.5" r="5.6" fill="#0000ff"/>
<circle cx="789.4" cy="627.5" r="5.6" fill="#0000ff"/>
<circle cx="787.2" cy="637.4" r="5.6" fill="#0000ff"/>
<circle cx="785.1" cy="647.4" r="5.6" fill="#0000ff"/>
<circle cx="783.0" cy="657.3" r="5.6" fill="#0000ff"/>
<circle cx="780.9" cy="667.2" r="5.6" fill="#0000ff"/>
<circle cx="778.8" cy="677.2" r="5.6" fill="#0000ff"/>
<circle cx="776.6" cy="687.1" r="5.6" fill="#0000ff"/>
<circle cx="774.5" cy="697.0" r="5.6" fill="#0000ff"/>
<circle cx="772.4" cy="707.0" r="5.6" fill="#0000ff"/>
<circle cx="770.5" cy="716.9" r="5.6" fill="#0000ff"/>
<circle cx="769.6" cy="726.9" r="5.6" fill="#0000ff"/>
<circle cx="768.6" cy="736.8" r="5.6" fill="#0000ff"/>
<circle cx="767.7" cy="746.7" r="5.6" fill="#0000ff"/>
<circle cx="766.8" cy="756.7" r="5.6" fill="#0000ff"/>
<circle cx="765.9" cy="766.6" r="5.6" fill="#0000ff"/>
<circle cx="765.4" cy="776.5" r="5.6" fill="#0000ff"/>
<circle cx="764.9" cy="786.5" r="5.6" fill="#0000ff"/>
<circle cx="764.5" cy="796.4" r="5.6" fill="#0000ff"/>
<circle cx="764.0" cy="806.4" r="5.6" fill="#0000ff"/>
<circle cx="763.5" cy="816.3" r="5.6" fill="#0000ff"/>
<circle cx="763.1" cy="826.2" r="5.6" fill="#0000ff"/>
<circle cx="762.7" cy="836.2" r="5.6" fill="#0000ff"/>
<circle cx="762.2" cy="846.1" r="5.6" fill="#0000ff"/>
<circle cx="761.8" cy="856.0" r="5.6" fill="#0000ff"/>
<circle cx="761.4" cy="866.0" r="5.6" fill="#0000ff"/>
<circle cx="760.9" cy="875.9" r="5.6" fill="#0000ff"/>
<circle cx="760.5" cy="885.9" r="5.6" fill="#0000ff"/>
<circle cx="760.1" cy="895.8" r="5.6" fill="#0000ff"/>
<circle cx="759.6" cy="905.7" r="5.6" fill="#0000ff"/>
<polyline points="800.3,19.3 800.2,21.3 800.1,23.3 800.0,25.3 799.9,27.2 799.8,29.2 799.7,31.2 799.6,33.2 799.4,35.2 799.3,37.2 799.2,39.2 799.1,41.2 798.5,43.2 797.5,45.1 796.6,47.1 795.6,49.1 794.6,51.1 793.3,53.1 791.8,55.1 790.3,57.1 789.1,59.0 788.4,61.0 787.8,63.0 787.1,65.0 786.4,67.0 786.0,69.0 785.9,71.0 785.7,73.0 785.6,75.0 785.4,76.9 785.3,78.9 785.2,80.9 785.0,82.9 784.9,84.9 784.7,86.9 784.6,88.9 784.5,90.8 784.3,92.8 784.1,94.8 784.0,96.8 783.8,98.8 783.8,100.8 783.9,102.8 784.1,104.8 784.3,106.8 784.4,108.7 784.7,110.7 785.0,112.7 785.3,114.7 785.7,116.7 786.0,118.7 786.5,120.7 787.0,122.7 787.5,124.6 788.0,126.6 788.5,128.6 789.0,130.6 789.5,132.6 790.0,134.6 790.5,136.6 791.0,138.6 794.1,158.4 800.8,178.3 804.7,198.2 801.8,218.1 810.3,267.7 829.6,317.4" fill="none" stroke="#ff0000" stroke-width="6" stroke-linejoin="round" stroke-linecap="round" />
<polyline points="829.6,317.4 830.7,416.8 821.3,516.2 806.0,615.5 780.1,714.9 763.6,814.3 740.0,1013.0" fill="none" stroke="#ff0000" stroke-width="5" stroke-linejoin="round" stroke-linecap="round" />
<circle cx="800.3" cy="19.3" r="5.6" fill="#ff0000"/>
<circle cx="800.2" cy="21.3" r="5.6" fill="#ff0000"/>
<circle cx="800.1" cy="23.3" r="5.6" fill="#ff0000"/>
<circle cx="800.0" cy="25.3" r="5.6" fill="#ff0000"/>
<circle cx="799.9" cy="27.2" r="5.6" fill="#ff0000"/>
<circle cx="799.8" cy="29.2" r="5.6" fill="#ff0000"/>
<circle cx="799.7" cy="31.2" r="5.6" fill="#ff0000"/>
<circle cx="799.6" cy="33.2" r="5.6" fill="#ff0000"/>
<circle cx="799.4" cy="35.2" r="5.6" fill="#ff0000"/>
<circle cx="799.3" cy="37.2" r="5.6" fill="#ff0000"/>
<circle cx="799.2" cy="39.2" r="5.6" fill="#ff0000"/>
<circle cx="799.1" cy="41.2" r="5.6" fill="#ff0000"/>
<circle cx="798.5" cy="43.2" r="5.6" fill="#ff0000"/>
<circle cx="797.5" cy="45.1" r="5.6" fill="#ff0000"/>
<circle cx="796.6" cy="47.1" r="5.6" fill="#ff0000"/>
<circle cx="795.6" cy="49.1" r="5.6" fill="#ff0000"/>
<circle cx="794.6" cy="51.1" r="5.6" fill="#ff0000"/>
<circle cx="793.3" cy="53.1" r="5.6" fill="#ff0000"/>
<circle cx="791.8" cy="55.1" r="5.6" fill="#ff0000"/>
<circle cx="790.3" cy="57.1" r="5.6" fill="#ff0000"/>
<circle cx="789.1" cy="59.0" r="5.6" fill="#ff0000"/>
<circle cx="788.4" cy="61.0" r="5.6" fill="#ff0000"/>
<circle cx="787.8" cy="63.0" r="5.6" fill="#ff0000"/>
<circle cx="787.1" cy="65.0" r="5.6" fill="#ff0000"/>
<circle cx="786.4" cy="67.0" r="5.6" fill="#ff0000"/>
<circle cx="786.0" cy="69.0" r="5.6" fill="#ff0000"/>
<circle cx="785.9" cy="71.0" r="5.6" fill="#ff0000"/>
<circle cx="785.7" cy="73.0" r="5.6" fill="#ff0000"/>
<circle cx="785.6" cy="75.0" r="5.6" fill="#ff0000"/>
<circle cx="785.4" cy="76.9" r="5.6" fill="#ff0000"/>
<circle cx="785.3" cy="78.9" r="5.6" fill="#ff0000"/>
<circle cx="785.2" cy="80.9" r="5.6" fill="#ff0000"/>
<circle cx="785.0" cy="82.9" r="5.6" fill="#ff0000"/>
<circle cx="784.9" cy="84.9" r="5.6" fill="#ff0000"/>
<circle cx="784.7" cy="86.9" r="5.6" fill="#ff0000"/>
<circle cx="784.6" cy="88.9" r="5.6" fill="#ff0000"/>
<circle cx="784.5" cy="90.8" r="5.6" fill="#ff0000"/>
<circle cx="784.3" cy="92.8" r="5.6" fill="#ff0000"/>
<circle cx="784.1" cy="94.8" r="5.6" fill="#ff0000"/>
<circle cx="784.0" cy="96.8" r="5.6" fill="#ff0000"/>
<circle cx="783.8" cy="98.8" r="5.6" fill="#ff0000"/>
<circle cx="783.8" cy="100.8" r="5.6" fill="#ff0000"/>
<circle cx="783.9" cy="102.8" r="5.6" fill="#ff0000"/>
<circle cx="784.1" cy="104.8" r="5.6" fill="#ff0000"/>
<circle cx="784.3" cy="106.8" r="5.6" fill="#ff0000"/>
<circle cx="784.4" cy="108.7" r="5.6" fill="#ff0000"/>
<circle cx="784.7" cy="110.7" r="5.6" fill="#ff0000"/>
<circle cx="785.0" cy="112.7" r="5.6" fill="#ff0000"/>
<circle cx="785.3" cy="114.7" r="5.6" fill="#ff0000"/>
<circle cx="785.7" cy="116.7" r="5.6" fill="#ff0000"/>
<circle cx="786.0" cy="118.7" r="5.6" fill="#ff0000"/>
<circle cx="786.5" cy="120.7" r="5.6" fill="#ff0000"/>
<circle cx="787.0" cy="122.7" r="5.6" fill="#ff0000"/>
<circle cx="787.5" cy="124.6" r="5.6" fill="#ff0000"/>
<circle cx="788.0" cy="126.6" r="5.6" fill="#ff0000"/>
<circle cx="788.5" cy="128.6" r="5.6" fill="#ff0000"/>
<circle cx="789.0" cy="130.6" r="5.6" fill="#ff0000"/>
<circle cx="789.5" cy="132.6" r="5.6" fill="#ff0000"/>
<circle cx="790.0" cy="134.6" r="5.6" fill="#ff0000"/>
<circle cx="790.5" cy="136.6" r="5.6" fill="#ff0000"/>
<circle cx="791.0" cy="138.6" r="5.6" fill="#ff0000"/>
<circle cx="794.1" cy="158.4" r="5.6" fill="#ff0000"/>
<circle cx="800.8" cy="178.3" r="5.6" fill="#ff0000"/>
<circle cx="804.7" cy="198.2" r="5.6" fill="#ff0000"/>
<circle cx="801.8" cy="218.1" r="5.6" fill="#ff0000"/>
<circle cx="810.3" cy="267.7" r="5.6" fill="#ff0000"/>
<circle cx="829.6" cy="317.4" r="5.6" fill="#ff0000"/>
<circle cx="830.7" cy="416.8" r="5.6" fill="#ff0000"/>
<circle cx="821.3" cy="516.2" r="5.6" fill="#ff0000"/>
<circle cx="806.0" cy="615.5" r="5.6" fill="#ff0000"/>
<circle cx="780.1" cy="714.9" r="5.6" fill="#ff0000"/>
<circle cx="763.6" cy="814.3" r="5.6" fill="#ff0000"/>
<circle cx="740.0" cy="1013.0" r="5.6" fill="#ff0000"/>
<polyline points="769.6,19.3 769.5,23.3 769.5,27.2 769.4,31.2 769.3,35.2 769.0,39.2 768.8,43.2 767.5,49.1 765.2,59.0 764.5,69.0 761.5,78.9 757.0,88.9 755.5,98.8 751.7,108.7 748.0,118.7 743.3,138.6 737.2,158.4 736.3,178.3 741.6,198.2 764.2,218.1 792.5,267.7 812.3,317.4 811.4,416.8 802.5,516.2 794.2,615.5 785.5,714.9 776.6,814.3 758.8,1013.0" fill="none" stroke="#008000" stroke-width="2.6" stroke-linejoin="round" stroke-linecap="round" />
<circle cx="769.6" cy="19.3" r="5.6" fill="#008000"/>
<circle cx="769.5" cy="23.3" r="5.6" fill="#008000"/>
<circle cx="769.5" cy="27.2" r="5.6" fill="#008000"/>
<circle cx="769.4" cy="31.2" r="5.6" fill="#008000"/>
<circle cx="769.3" cy="35.2" r="5.6" fill="#008000"/>
<circle cx="769.0" cy="39.2" r="5.6" fill="#008000"/>
<circle cx="768.8" cy="43.2" r="5.6" fill="#008000"/>
<circle cx="767.5" cy="49.1" r="5.6" fill="#008000"/>
<circle cx="765.2" cy="59.0" r="5.6" fill="#008000"/>
<circle cx="764.5" cy="69.0" r="5.6" fill="#008000"/>
<circle cx="761.5" cy="78.9" r="5.6" fill="#008000"/>
<circle cx="757.0" cy="88.9" r="5.6" fill="#008000"/>
<circle cx="755.5" cy="98.8" r="5.6" fill="#008000"/>
<circle cx="751.7" cy="108.7" r="5.6" fill="#008000"/>
<circle cx="748.0" cy="118.7" r="5.6" fill="#008000"/>
<circle cx="743.3" cy="138.6" r="5.6" fill="#008000"/>
<circle cx="737.2" cy="158.4" r="5.6" fill="#008000"/>
<circle cx="736.3" cy="178.3" r="5.6" fill="#008000"/>
<circle cx="741.6" cy="198.2" r="5.6" fill="#008000"/>
<circle cx="764.2" cy="218.1" r="5.6" fill="#008000"/>
<circle cx="792.5" cy="267.7" r="5.6" fill="#008000"/>
<circle cx="812.3" cy="317.4" r="5.6" fill="#008000"/>
<circle cx="811.4" cy="416.8" r="5.6" fill="#008000"/>
<circle cx="802.5" cy="516.2" r="5.6" fill="#008000"/>
<circle cx="794.2" cy="615.5" r="5.6" fill="#008000"/>
<circle cx="785.5" cy="714.9" r="5.6" fill="#008000"/>
<circle cx="776.6" cy="814.3" r="5.6" fill="#008000"/>
<circle cx="758.8" cy="1013.0" r="5.6" fill="#008000"/>
<polyline points="671.0,20.3 670.5,22.4 670.0,24.6 669.3,26.9 668.6,29.4 668.6,32.1 668.6,35.1 668.6,38.3 668.6,42.0 668.6,46.1 668.5,50.7 668.5,56.1 668.5,62.2 668.5,69.4 668.2,77.8 678.2,87.7 714.2,99.5 747.0,113.4 759.3,130.1 754.6,150.1 734.3,174.0 716.0,202.8 728.5,237.4 770.3,279.0 804.6,329.1 819.0,389.2 820.8,461.5 815.4,548.1 801.3,651.6 780.8,775.0 766.0,921.5" fill="none" stroke="#ff00ff" stroke-width="2.6" stroke-linejoin="round" stroke-linecap="round" />
<circle cx="671.0" cy="20.3" r="5.6" fill="#ff00ff"/>
<circle cx="670.5" cy="22.4" r="5.6" fill="#ff00ff"/>
<circle cx="670.0" cy="24.6" r="5.6" fill="#ff00ff"/>
<circle cx="669.3" cy="26.9" r="5.6" fill="#ff00ff"/>
<circle cx="668.6" cy="29.4" r="5.6" fill="#ff00ff"/>
<circle cx="668.6" cy="32.1" r="5.6" fill="#ff00ff"/>
<circle cx="668.6" cy="35.1" r="5.6" fill="#ff00ff"/>
<circle cx="668.6" cy="38.3" r="5.6" fill="#ff00ff"/>
<circle cx="668.6" cy="42.0" r="5.6" fill="#ff00ff"/>
<circle cx="668.6" cy="46.1" r="5.6" fill="#ff00ff"/>
<circle cx="668.5" cy="50.7" r="5.6" fill="#ff00ff"/>
<circle cx="668.5" cy="56.1" r="5.6" fill="#ff00ff"/>
<circle cx="668.5" cy="62.2" r="5.6" fill="#ff00ff"/>
<circle cx="668.5" cy="69.4" r="5.6" fill="#ff00ff"/>
<circle cx="668.2" cy="77.8" r="5.6" fill="#ff00ff"/>
<circle cx="678.2" cy="87.7" r="5.6" fill="#ff00ff"/>
<circle cx="714.2" cy="99.5" r="5.6" fill="#ff00ff"/>
<circle cx="747.0" cy="113.4" r="5.6" fill="#ff00ff"/>
<circle cx="759.3" cy="130.1" r="5.6" fill="#ff00ff"/>
<circle cx="754.6" cy="150.1" r="5.6" fill="#ff00ff"/>
<circle cx="734.3" cy="174.0" r="5.6" fill="#ff00ff"/>
<circle cx="716.0" cy="202.8" r="5.6" fill="#ff00ff"/>
<circle cx="728.5" cy="237.4" r="5.6" fill="#ff00ff"/>
<circle cx="770.3" cy="279.0" r="5.6" fill="#ff00ff"/>
<circle cx="804.6" cy="329.1" r="5.6" fill="#ff00ff"/>
<circle cx="819.0" cy="389.2" r="5.6" fill="#ff00ff"/>
<circle cx="820.8" cy="461.5" r="5.6" fill="#ff00ff"/>
<circle cx="815.4" cy="548.1" r="5.6" fill="#ff00ff"/>
<circle cx="801.3" cy="651.6" r="5.6" fill="#ff00ff"/>
<circle cx="780.8" cy="775.0" r="5.6" fill="#ff00ff"/>
<circle cx="766.0" cy="921.5" r="5.6" fill="#ff00ff"/></g>
<g clip-path="url(#c2)"><polyline points="1101.0,19.3 1102.0,59.0 1103.5,78.9 1108.0,93.8 1123.0,102.8 1148.0,118.7 1173.0,138.6 1195.0,158.4 1209.0,178.3 1220.0,198.2 1229.0,218.1 1236.5,237.9 1245.1,257.8 1253.6,267.7 1274.0,317.4 1292.8,416.8 1306.0,516.2 1319.0,615.5 1330.2,714.9 1341.0,814.3 1361.0,1013.0" fill="none" stroke="#00ffff" stroke-width="6" stroke-linejoin="round" stroke-linecap="round" />
<polyline points="1095.0,19.3 1096.0,59.0 1097.5,78.9 1102.0,93.8 1117.0,102.8 1142.0,118.7 1167.0,138.6 1189.0,158.4 1203.0,178.3 1214.0,198.2 1223.0,218.1 1230.5,237.9 1239.1,257.8 1247.6,267.7 1268.0,317.4 1290.8,416.8 1304.0,516.2 1317.0,615.5 1328.2,714.9 1339.0,814.3 1359.0,1013.0" fill="none" stroke="#00ffff" stroke-width="6" stroke-linejoin="round" stroke-linecap="round" />
<polyline points="1100.0,93.8 1100.0,102.8 1106.0,106.8 1118.0,110.7 1130.0,118.7" fill="none" stroke="#00ffff" stroke-width="6" stroke-linejoin="round" stroke-linecap="round" />
<polyline points="1230.0,234.0 1234.0,249.9 1238.0,261.8 1248.0,271.7" fill="none" stroke="#00ffff" stroke-width="6" stroke-linejoin="round" stroke-linecap="round" />
<polyline points="1098.0,21.3 1098.3,31.2 1098.5,41.2 1098.8,51.1 1099.2,61.0 1099.9,71.0 1101.1,80.9 1104.1,90.8 1116.7,100.8 1132.5,110.7 1147.5,120.7 1160.0,130.6 1172.2,140.5 1183.2,150.5 1193.4,160.4 1200.4,170.4 1207.1,180.3 1212.6,190.2 1217.9,200.2 1222.4,210.1 1226.8,220.0 1230.5,230.0 1234.4,239.9 1238.7,249.9 1243.8,259.8 1251.4,269.7 1255.5,279.7 1259.6,289.6 1263.7,299.5 1267.7,309.5 1271.4,319.4 1273.5,329.4 1275.6,339.3 1277.7,349.2 1279.7,359.2 1281.8,369.1 1283.9,379.0 1286.0,389.0 1288.1,398.9 1290.1,408.9 1292.1,418.8 1293.4,428.7 1294.7,438.7 1296.0,448.6 1297.3,458.5 1298.7,468.5 1300.0,478.4 1301.3,488.4 1302.6,498.3 1303.9,508.2 1305.3,518.2 1306.6,528.1 1307.9,538.0 1309.2,548.0 1310.5,557.9 1311.8,567.9 1313.1,577.8 1314.4,587.7 1315.7,597.7 1317.0,607.6 1318.2,617.5 1319.3,627.5 1320.5,637.4 1321.6,647.4 1322.7,657.3 1323.8,667.2 1324.9,677.2 1326.1,687.1 1327.2,697.0 1328.3,707.0 1329.4,716.9 1330.5,726.9 1331.6,736.8 1332.7,746.7 1333.7,756.7 1334.8,766.6 1335.9,776.5 1337.0,786.5 1338.1,796.4 1339.1,806.4 1340.2,816.3 1341.2,826.2 1342.2,836.2 1343.2,846.1 1344.2,856.0 1345.2,866.0 1346.2,875.9 1347.2,885.9 1348.2,895.8 1349.2,905.7" fill="none" stroke="#0000ff" stroke-width="2.6" stroke-linejoin="round" stroke-linecap="round" />
<circle cx="1098.0" cy="21.3" r="5.6" fill="#0000ff"/>
<circle cx="1098.3" cy="31.2" r="5.6" fill="#0000ff"/>
<circle cx="1098.5" cy="41.2" r="5.6" fill="#0000ff"/>
<circle cx="1098.8" cy="51.1" r="5.6" fill="#0000ff"/>
<circle cx="1099.2" cy="61.0" r="5.6" fill="#0000ff"/>
<circle cx="1099.9" cy="71.0" r="5.6" fill="#0000ff"/>
<circle cx="1101.1" cy="80.9" r="5.6" fill="#0000ff"/>
<circle cx="1104.1" cy="90.8" r="5.6" fill="#0000ff"/>
<circle cx="1116.7" cy="100.8" r="5.6" fill="#0000ff"/>
<circle cx="1132.5" cy="110.7" r="5.6" fill="#0000ff"/>
<circle cx="1147.5" cy="120.7" r="5.6" fill="#0000ff"/>
<circle cx="1160.0" cy="130.6" r="5.6" fill="#0000ff"/>
<circle cx="1172.2" cy="140.5" r="5.6" fill="#0000ff"/>
<circle cx="1183.2" cy="150.5" r="5.6" fill="#0000ff"/>
<circle cx="1193.4" cy="160.4" r="5.6" fill="#0000ff"/>
<circle cx="1200.4" cy="170.4" r="5.6" fill="#0000ff"/>
<circle cx="1207.1" cy="180.3" r="5.6" fill="#0000ff"/>
<circle cx="1212.6" cy="190.2" r="5.6" fill="#0000ff"/>
<circle cx="1217.9" cy="200.2" r="5.6" fill="#0000ff"/>
<circle cx="1222.4" cy="210.1" r="5.6" fill="#0000ff"/>
<circle cx="1226.8" cy="220.0" r="5.6" fill="#0000ff"/>
<circle cx="1230.5" cy="230.0" r="5.6" fill="#0000ff"/>
<circle cx="1234.4" cy="239.9" r="5.6" fill="#0000ff"/>
<circle cx="1238.7" cy="249.9" r="5.6" fill="#0000ff"/>
<circle cx="1243.8" cy="259.8" r="5.6" fill="#0000ff"/>
<circle cx="1251.4" cy="269.7" r="5.6" fill="#0000ff"/>
<circle cx="1255.5" cy="279.7" r="5.6" fill="#0000ff"/>
<circle cx="1259.6" cy="289.6" r="5.6" fill="#0000ff"/>
<circle cx="1263.7" cy="299.5" r="5.6" fill="#0000ff"/>
<circle cx="1267.7" cy="309.5" r="5.6" fill="#0000ff"/>
<circle cx="1271.4" cy="319.4" r="5.6" fill="#0000ff"/>
<circle cx="1273.5" cy="329.4" r="5.6" fill="#0000ff"/>
<circle cx="1275.6" cy="339.3" r="5.6" fill="#0000ff"/>
<circle cx="1277.7" cy="349.2" r="5.6" fill="#0000ff"/>
<circle cx="1279.7" cy="359.2" r="5.6" fill="#0000ff"/>
<circle cx="1281.8" cy="369.1" r="5.6" fill="#0000ff"/>
<circle cx="1283.9" cy="379.0" r="5.6" fill="#0000ff"/>
<circle cx="1286.0" cy="389.0" r="5.6" fill="#0000ff"/>
<circle cx="1288.1" cy="398.9" r="5.6" fill="#0000ff"/>
<circle cx="1290.1" cy="408.9" r="5.6" fill="#0000ff"/>
<circle cx="1292.1" cy="418.8" r="5.6" fill="#0000ff"/>
<circle cx="1293.4" cy="428.7" r="5.6" fill="#0000ff"/>
<circle cx="1294.7" cy="438.7" r="5.6" fill="#0000ff"/>
<circle cx="1296.0" cy="448.6" r="5.6" fill="#0000ff"/>
<circle cx="1297.3" cy="458.5" r="5.6" fill="#0000ff"/>
<circle cx="1298.7" cy="468.5" r="5.6" fill="#0000ff"/>
<circle cx="1300.0" cy="478.4" r="5.6" fill="#0000ff"/>
<circle cx="1301.3" cy="488.4" r="5.6" fill="#0000ff"/>
<circle cx="1302.6" cy="498.3" r="5.6" fill="#0000ff"/>
<circle cx="1303.9" cy="508.2" r="5.6" fill="#0000ff"/>
<circle cx="1305.3" cy="518.2" r="5.6" fill="#0000ff"/>
<circle cx="1306.6" cy="528.1" r="5.6" fill="#0000ff"/>
<circle cx="1307.9" cy="538.0" r="5.6" fill="#0000ff"/>
<circle cx="1309.2" cy="548.0" r="5.6" fill="#0000ff"/>
<circle cx="1310.5" cy="557.9" r="5.6" fill="#0000ff"/>
<circle cx="1311.8" cy="567.9" r="5.6" fill="#0000ff"/>
<circle cx="1313.1" cy="577.8" r="5.6" fill="#0000ff"/>
<circle cx="1314.4" cy="587.7" r="5.6" fill="#0000ff"/>
<circle cx="1315.7" cy="597.7" r="5.6" fill="#0000ff"/>
<circle cx="1317.0" cy="607.6" r="5.6" fill="#0000ff"/>
<circle cx="1318.2" cy="617.5" r="5.6" fill="#0000ff"/>
<circle cx="1319.3" cy="627.5" r="5.6" fill="#0000ff"/>
<circle cx="1320.5" cy="637.4" r="5.6" fill="#0000ff"/>
<circle cx="1321.6" cy="647.4" r="5.6" fill="#0000ff"/>
<circle cx="1322.7" cy="657.3" r="5.6" fill="#0000ff"/>
<circle cx="1323.8" cy="667.2" r="5.6" fill="#0000ff"/>
<circle cx="1324.9" cy="677.2" r="5.6" fill="#0000ff"/>
<circle cx="1326.1" cy="687.1" r="5.6" fill="#0000ff"/>
<circle cx="1327.2" cy="697.0" r="5.6" fill="#0000ff"/>
<circle cx="1328.3" cy="707.0" r="5.6" fill="#0000ff"/>
<circle cx="1329.4" cy="716.9" r="5.6" fill="#0000ff"/>
<circle cx="1330.5" cy="726.9" r="5.6" fill="#0000ff"/>
<circle cx="1331.6" cy="736.8" r="5.6" fill="#0000ff"/>
<circle cx="1332.7" cy="746.7" r="5.6" fill="#0000ff"/>
<circle cx="1333.7" cy="756.7" r="5.6" fill="#0000ff"/>
<circle cx="1334.8" cy="766.6" r="5.6" fill="#0000ff"/>
<circle cx="1335.9" cy="776.5" r="5.6" fill="#0000ff"/>
<circle cx="1337.0" cy="786.5" r="5.6" fill="#0000ff"/>
<circle cx="1338.1" cy="796.4" r="5.6" fill="#0000ff"/>
<circle cx="1339.1" cy="806.4" r="5.6" fill="#0000ff"/>
<circle cx="1340.2" cy="816.3" r="5.6" fill="#0000ff"/>
<circle cx="1341.2" cy="826.2" r="5.6" fill="#0000ff"/>
<circle cx="1342.2" cy="836.2" r="5.6" fill="#0000ff"/>
<circle cx="1343.2" cy="846.1" r="5.6" fill="#0000ff"/>
<circle cx="1344.2" cy="856.0" r="5.6" fill="#0000ff"/>
<circle cx="1345.2" cy="866.0" r="5.6" fill="#0000ff"/>
<circle cx="1346.2" cy="875.9" r="5.6" fill="#0000ff"/>
<circle cx="1347.2" cy="885.9" r="5.6" fill="#0000ff"/>
<circle cx="1348.2" cy="895.8" r="5.6" fill="#0000ff"/>
<circle cx="1349.2" cy="905.7" r="5.6" fill="#0000ff"/>
<polyline points="1107.4,19.3 1107.4,21.3 1107.4,23.3 1107.5,25.3 1107.5,27.2 1107.5,29.2 1107.5,31.2 1107.5,33.2 1107.6,35.2 1107.6,37.2 1107.6,39.2 1107.6,41.2 1107.6,43.2 1107.7,45.1 1107.7,47.1 1107.7,49.1 1107.7,51.1 1107.7,53.1 1107.8,55.1 1107.8,57.1 1107.8,59.0 1108.5,61.0 1109.2,63.0 1110.0,65.0 1110.7,67.0 1111.4,69.0 1111.9,71.0 1112.5,73.0 1113.0,75.0 1113.5,76.9 1114.5,78.9 1115.5,80.9 1116.5,82.9 1118.1,84.9 1120.2,86.9 1122.4,88.9 1124.3,90.8 1126.1,92.8 1127.9,94.8 1129.7,96.8 1131.5,98.8 1134.3,100.8 1137.3,102.8 1140.3,104.8 1143.3,106.8 1146.3,108.7 1148.6,110.7 1151.0,112.7 1153.3,114.7 1155.6,116.7 1158.0,118.7 1159.7,120.7 1161.1,122.7 1162.5,124.6 1164.0,126.6 1166.2,128.6 1168.3,130.6 1170.5,132.6 1172.7,134.6 1174.8,136.6 1177.0,138.6 1193.9,158.4 1205.7,178.3 1217.5,198.2 1227.5,218.1 1251.7,267.7 1269.9,317.4 1290.4,416.8 1304.0,516.2 1316.0,615.5 1327.5,714.9 1338.0,814.3 1359.0,1013.0" fill="none" stroke="#ff0000" stroke-width="3.4" stroke-linejoin="round" stroke-linecap="round" />
<circle cx="1107.4" cy="19.3" r="5.6" fill="#ff0000"/>
<circle cx="1107.4" cy="21.3" r="5.6" fill="#ff0000"/>
<circle cx="1107.4" cy="23.3" r="5.6" fill="#ff0000"/>
<circle cx="1107.5" cy="25.3" r="5.6" fill="#ff0000"/>
<circle cx="1107.5" cy="27.2" r="5.6" fill="#ff0000"/>
<circle cx="1107.5" cy="29.2" r="5.6" fill="#ff0000"/>
<circle cx="1107.5" cy="31.2" r="5.6" fill="#ff0000"/>
<circle cx="1107.5" cy="33.2" r="5.6" fill="#ff0000"/>
<circle cx="1107.6" cy="35.2" r="5.6" fill="#ff0000"/>
<circle cx="1107.6" cy="37.2" r="5.6" fill="#ff0000"/>
<circle cx="1107.6" cy="39.2" r="5.6" fill="#ff0000"/>
<circle cx="1107.6" cy="41.2" r="5.6" fill="#ff0000"/>
<circle cx="1107.6" cy="43.2" r="5.6" fill="#ff0000"/>
<circle cx="1107.7" cy="45.1" r="5.6" fill="#ff0000"/>
<circle cx="1107.7" cy="47.1" r="5.6" fill="#ff0000"/>
<circle cx="1107.7" cy="49.1" r="5.6" fill="#ff0000"/>
<circle cx="1107.7" cy="51.1" r="5.6" fill="#ff0000"/>
<circle cx="1107.7" cy="53.1" r="5.6" fill="#ff0000"/>
<circle cx="1107.8" cy="55.1" r="5.6" fill="#ff0000"/>
<circle cx="1107.8" cy="57.1" r="5.6" fill="#ff0000"/>
<circle cx="1107.8" cy="59.0" r="5.6" fill="#ff0000"/>
<circle cx="1108.5" cy="61.0" r="5.6" fill="#ff0000"/>
<circle cx="1109.2" cy="63.0" r="5.6" fill="#ff0000"/>
<circle cx="1110.0" cy="65.0" r="5.6" fill="#ff0000"/>
<circle cx="1110.7" cy="67.0" r="5.6" fill="#ff0000"/>
<circle cx="1111.4" cy="69.0" r="5.6" fill="#ff0000"/>
<circle cx="1111.9" cy="71.0" r="5.6" fill="#ff0000"/>
<circle cx="1112.5" cy="73.0" r="5.6" fill="#ff0000"/>
<circle cx="1113.0" cy="75.0" r="5.6" fill="#ff0000"/>
<circle cx="1113.5" cy="76.9" r="5.6" fill="#ff0000"/>
<circle cx="1114.5" cy="78.9" r="5.6" fill="#ff0000"/>
<circle cx="1115.5" cy="80.9" r="5.6" fill="#ff0000"/>
<circle cx="1116.5" cy="82.9" r="5.6" fill="#ff0000"/>
<circle cx="1118.1" cy="84.9" r="5.6" fill="#ff0000"/>
<circle cx="1120.2" cy="86.9" r="5.6" fill="#ff0000"/>
<circle cx="1122.4" cy="88.9" r="5.6" fill="#ff0000"/>
<circle cx="1124.3" cy="90.8" r="5.6" fill="#ff0000"/>
<circle cx="1126.1" cy="92.8" r="5.6" fill="#ff0000"/>
<circle cx="1127.9" cy="94.8" r="5.6" fill="#ff0000"/>
<circle cx="1129.7" cy="96.8" r="5.6" fill="#ff0000"/>
<circle cx="1131.5" cy="98.8" r="5.6" fill="#ff0000"/>
<circle cx="1134.3" cy="100.8" r="5.6" fill="#ff0000"/>
<circle cx="1137.3" cy="102.8" r="5.6" fill="#ff0000"/>
<circle cx="1140.3" cy="104.8" r="5.6" fill="#ff0000"/>
<circle cx="1143.3" cy="106.8" r="5.6" fill="#ff0000"/>
<circle cx="1146.3" cy="108.7" r="5.6" fill="#ff0000"/>
<circle cx="1148.6" cy="110.7" r="5.6" fill="#ff0000"/>
<circle cx="1151.0" cy="112.7" r="5.6" fill="#ff0000"/>
<circle cx="1153.3" cy="114.7" r="5.6" fill="#ff0000"/>
<circle cx="1155.6" cy="116.7" r="5.6" fill="#ff0000"/>
<circle cx="1158.0" cy="118.7" r="5.6" fill="#ff0000"/>
<circle cx="1159.7" cy="120.7" r="5.6" fill="#ff0000"/>
<circle cx="1161.1" cy="122.7" r="5.6" fill="#ff0000"/>
<circle cx="1162.5" cy="124.6" r="5.6" fill="#ff0000"/>
<circle cx="1164.0" cy="126.6" r="5.6" fill="#ff0000"/>
<circle cx="1166.2" cy="128.6" r="5.6" fill="#ff0000"/>
<circle cx="1168.3" cy="130.6" r="5.6" fill="#ff0000"/>
<circle cx="1170.5" cy="132.6" r="5.6" fill="#ff0000"/>
<circle cx="1172.7" cy="134.6" r="5.6" fill="#ff0000"/>
<circle cx="1174.8" cy="136.6" r="5.6" fill="#ff0000"/>
<circle cx="1177.0" cy="138.6" r="5.6" fill="#ff0000"/>
<circle cx="1193.9" cy="158.4" r="5.6" fill="#ff0000"/>
<circle cx="1205.7" cy="178.3" r="5.6" fill="#ff0000"/>
<circle cx="1217.5" cy="198.2" r="5.6" fill="#ff0000"/>
<circle cx="1227.5" cy="218.1" r="5.6" fill="#ff0000"/>
<circle cx="1251.7" cy="267.7" r="5.6" fill="#ff0000"/>
<circle cx="1269.9" cy="317.4" r="5.6" fill="#ff0000"/>
<circle cx="1290.4" cy="416.8" r="5.6" fill="#ff0000"/>
<circle cx="1304.0" cy="516.2" r="5.6" fill="#ff0000"/>
<circle cx="1316.0" cy="615.5" r="5.6" fill="#ff0000"/>
<circle cx="1327.5" cy="714.9" r="5.6" fill="#ff0000"/>
<circle cx="1338.0" cy="814.3" r="5.6" fill="#ff0000"/>
<circle cx="1359.0" cy="1013.0" r="5.6" fill="#ff0000"/>
<polyline points="1105.1,19.3 1105.2,23.3 1105.3,27.2 1105.5,31.2 1105.6,35.2 1105.7,39.2 1105.8,43.2 1106.0,49.1 1106.5,59.0 1107.7,69.0 1110.3,78.9 1115.4,88.9 1124.8,98.8 1136.0,108.7 1148.0,118.7 1174.5,138.6 1202.6,158.4 1217.5,178.3 1225.4,198.2 1235.7,218.1 1258.1,267.7 1277.0,317.4 1291.2,416.8 1304.3,516.2 1316.5,615.5 1327.9,714.9 1338.4,814.3 1359.4,1013.0" fill="none" stroke="#008000" stroke-width="2.6" stroke-linejoin="round" stroke-linecap="round" />
<circle cx="1105.1" cy="19.3" r="5.6" fill="#008000"/>
<circle cx="1105.2" cy="23.3" r="5.6" fill="#008000"/>
<circle cx="1105.3" cy="27.2" r="5.6" fill="#008000"/>
<circle cx="1105.5" cy="31.2" r="5.6" fill="#008000"/>
<circle cx="1105.6" cy="35.2" r="5.6" fill="#008000"/>
<circle cx="1105.7" cy="39.2" r="5.6" fill="#008000"/>
<circle cx="1105.8" cy="43.2" r="5.6" fill="#008000"/>
<circle cx="1106.0" cy="49.1" r="5.6" fill="#008000"/>
<circle cx="1106.5" cy="59.0" r="5.6" fill="#008000"/>
<circle cx="1107.7" cy="69.0" r="5.6" fill="#008000"/>
<circle cx="1110.3" cy="78.9" r="5.6" fill="#008000"/>
<circle cx="1115.4" cy="88.9" r="5.6" fill="#008000"/>
<circle cx="1124.8" cy="98.8" r="5.6" fill="#008000"/>
<circle cx="1136.0" cy="108.7" r="5.6" fill="#008000"/>
<circle cx="1148.0" cy="118.7" r="5.6" fill="#008000"/>
<circle cx="1174.5" cy="138.6" r="5.6" fill="#008000"/>
<circle cx="1202.6" cy="158.4" r="5.6" fill="#008000"/>
<circle cx="1217.5" cy="178.3" r="5.6" fill="#008000"/>
<circle cx="1225.4" cy="198.2" r="5.6" fill="#008000"/>
<circle cx="1235.7" cy="218.1" r="5.6" fill="#008000"/>
<circle cx="1258.1" cy="267.7" r="5.6" fill="#008000"/>
<circle cx="1277.0" cy="317.4" r="5.6" fill="#008000"/>
<circle cx="1291.2" cy="416.8" r="5.6" fill="#008000"/>
<circle cx="1304.3" cy="516.2" r="5.6" fill="#008000"/>
<circle cx="1316.5" cy="615.5" r="5.6" fill="#008000"/>
<circle cx="1327.9" cy="714.9" r="5.6" fill="#008000"/>
<circle cx="1338.4" cy="814.3" r="5.6" fill="#008000"/>
<circle cx="1359.4" cy="1013.0" r="5.6" fill="#008000"/>
<polyline points="1093.1,20.3 1093.5,22.4 1093.9,24.6 1094.2,26.9 1094.4,29.4 1094.7,32.1 1095.0,35.1 1095.1,38.3 1095.3,42.0 1095.5,46.1 1095.7,50.7 1095.9,56.1 1096.3,62.2 1097.0,69.4 1098.3,77.8 1102.6,87.7 1116.3,99.5 1134.2,113.4 1155.7,130.1 1181.0,150.1 1205.7,174.0 1231.4,202.8 1253.9,237.4 1270.3,279.0 1282.2,329.1 1291.2,389.2 1300.1,461.5 1309.0,548.1 1321.3,651.6 1335.4,775.0 1346.6,921.5" fill="none" stroke="#ff00ff" stroke-width="2.6" stroke-linejoin="round" stroke-linecap="round" />
<circle cx="1093.1" cy="20.3" r="5.6" fill="#ff00ff"/>
<circle cx="1093.5" cy="22.4" r="5.6" fill="#ff00ff"/>
<circle cx="1093.9" cy="24.6" r="5.6" fill="#ff00ff"/>
<circle cx="1094.2" cy="26.9" r="5.6" fill="#ff00ff"/>
<circle cx="1094.4" cy="29.4" r="5.6" fill="#ff00ff"/>
<circle cx="1094.7" cy="32.1" r="5.6" fill="#ff00ff"/>
<circle cx="1095.0" cy="35.1" r="5.6" fill="#ff00ff"/>
<circle cx="1095.1" cy="38.3" r="5.6" fill="#ff00ff"/>
<circle cx="1095.3" cy="42.0" r="5.6" fill="#ff00ff"/>
<circle cx="1095.5" cy="46.1" r="5.6" fill="#ff00ff"/>
<circle cx="1095.7" cy="50.7" r="5.6" fill="#ff00ff"/>
<circle cx="1095.9" cy="56.1" r="5.6" fill="#ff00ff"/>
<circle cx="1096.3" cy="62.2" r="5.6" fill="#ff00ff"/>
<circle cx="1097.0" cy="69.4" r="5.6" fill="#ff00ff"/>
<circle cx="1098.3" cy="77.8" r="5.6" fill="#ff00ff"/>
<circle cx="1102.6" cy="87.7" r="5.6" fill="#ff00ff"/>
<circle cx="1116.3" cy="99.5" r="5.6" fill="#ff00ff"/>
<circle cx="1134.2" cy="113.4" r="5.6" fill="#ff00ff"/>
<circle cx="1155.7" cy="130.1" r="5.6" fill="#ff00ff"/>
<circle cx="1181.0" cy="150.1" r="5.6" fill="#ff00ff"/>
<circle cx="1205.7" cy="174.0" r="5.6" fill="#ff00ff"/>
<circle cx="1231.4" cy="202.8" r="5.6" fill="#ff00ff"/>
<circle cx="1253.9" cy="237.4" r="5.6" fill="#ff00ff"/>
<circle cx="1270.3" cy="279.0" r="5.6" fill="#ff00ff"/>
<circle cx="1282.2" cy="329.1" r="5.6" fill="#ff00ff"/>
<circle cx="1291.2" cy="389.2" r="5.6" fill="#ff00ff"/>
<circle cx="1300.1" cy="461.5" r="5.6" fill="#ff00ff"/>
<circle cx="1309.0" cy="548.1" r="5.6" fill="#ff00ff"/>
<circle cx="1321.3" cy="651.6" r="5.6" fill="#ff00ff"/>
<circle cx="1335.4" cy="775.0" r="5.6" fill="#ff00ff"/>
<circle cx="1346.6" cy="921.5" r="5.6" fill="#ff00ff"/></g>
<rect x="88.4" y="19.3" width="396.0" height="795.0" fill="none" stroke="#000" stroke-width="1.4"/>
<line x1="82.6" y1="19.30" x2="88.4" y2="19.30" stroke="#000" stroke-width="1.35"/>
<line x1="82.6" y1="68.99" x2="88.4" y2="68.99" stroke="#000" stroke-width="1.35"/>
<line x1="82.6" y1="118.67" x2="88.4" y2="118.67" stroke="#000" stroke-width="1.35"/>
<line x1="82.6" y1="168.36" x2="88.4" y2="168.36" stroke="#000" stroke-width="1.35"/>
<line x1="82.6" y1="218.05" x2="88.4" y2="218.05" stroke="#000" stroke-width="1.35"/>
<line x1="82.6" y1="267.74" x2="88.4" y2="267.74" stroke="#000" stroke-width="1.35"/>
<line x1="82.6" y1="317.43" x2="88.4" y2="317.43" stroke="#000" stroke-width="1.35"/>
<line x1="82.6" y1="367.11" x2="88.4" y2="367.11" stroke="#000" stroke-width="1.35"/>
<line x1="82.6" y1="416.80" x2="88.4" y2="416.80" stroke="#000" stroke-width="1.35"/>
<line x1="82.6" y1="466.49" x2="88.4" y2="466.49" stroke="#000" stroke-width="1.35"/>
<line x1="82.6" y1="516.17" x2="88.4" y2="516.17" stroke="#000" stroke-width="1.35"/>
<line x1="82.6" y1="565.86" x2="88.4" y2="565.86" stroke="#000" stroke-width="1.35"/>
<line x1="82.6" y1="615.55" x2="88.4" y2="615.55" stroke="#000" stroke-width="1.35"/>
<line x1="82.6" y1="665.24" x2="88.4" y2="665.24" stroke="#000" stroke-width="1.35"/>
<line x1="82.6" y1="714.92" x2="88.4" y2="714.92" stroke="#000" stroke-width="1.35"/>
<line x1="82.6" y1="764.61" x2="88.4" y2="764.61" stroke="#000" stroke-width="1.35"/>
<line x1="101.20" y1="814.3" x2="101.20" y2="820.1" stroke="#000" stroke-width="1.35"/>
<line x1="174.80" y1="814.3" x2="174.80" y2="820.1" stroke="#000" stroke-width="1.35"/>
<line x1="248.40" y1="814.3" x2="248.40" y2="820.1" stroke="#000" stroke-width="1.35"/>
<line x1="322.00" y1="814.3" x2="322.00" y2="820.1" stroke="#000" stroke-width="1.35"/>
<line x1="395.60" y1="814.3" x2="395.60" y2="820.1" stroke="#000" stroke-width="1.35"/>
<line x1="469.20" y1="814.3" x2="469.20" y2="820.1" stroke="#000" stroke-width="1.35"/>
<rect x="582.4" y="19.3" width="396.2" height="795.0" fill="none" stroke="#000" stroke-width="1.4"/>
<line x1="576.6" y1="19.30" x2="582.4" y2="19.30" stroke="#000" stroke-width="1.35"/>
<line x1="576.6" y1="68.99" x2="582.4" y2="68.99" stroke="#000" stroke-width="1.35"/>
<line x1="576.6" y1="118.67" x2="582.4" y2="118.67" stroke="#000" stroke-width="1.35"/>
<line x1="576.6" y1="168.36" x2="582.4" y2="168.36" stroke="#000" stroke-width="1.35"/>
<line x1="576.6" y1="218.05" x2="582.4" y2="218.05" stroke="#000" stroke-width="1.35"/>
<line x1="576.6" y1="267.74" x2="582.4" y2="267.74" stroke="#000" stroke-width="1.35"/>
<line x1="576.6" y1="317.43" x2="582.4" y2="317.43" stroke="#000" stroke-width="1.35"/>
<line x1="576.6" y1="367.11" x2="582.4" y2="367.11" stroke="#000" stroke-width="1.35"/>
<line x1="576.6" y1="416.80" x2="582.4" y2="416.80" stroke="#000" stroke-width="1.35"/>
<line x1="576.6" y1="466.49" x2="582.4" y2="466.49" stroke="#000" stroke-width="1.35"/>
<line x1="576.6" y1="516.17" x2="582.4" y2="516.17" stroke="#000" stroke-width="1.35"/>
<line x1="576.6" y1="565.86" x2="582.4" y2="565.86" stroke="#000" stroke-width="1.35"/>
<line x1="576.6" y1="615.55" x2="582.4" y2="615.55" stroke="#000" stroke-width="1.35"/>
<line x1="576.6" y1="665.24" x2="582.4" y2="665.24" stroke="#000" stroke-width="1.35"/>
<line x1="576.6" y1="714.92" x2="582.4" y2="714.92" stroke="#000" stroke-width="1.35"/>
<line x1="576.6" y1="764.61" x2="582.4" y2="764.61" stroke="#000" stroke-width="1.35"/>
<line x1="627.60" y1="814.3" x2="627.60" y2="820.1" stroke="#000" stroke-width="1.35"/>
<line x1="696.74" y1="814.3" x2="696.74" y2="820.1" stroke="#000" stroke-width="1.35"/>
<line x1="765.88" y1="814.3" x2="765.88" y2="820.1" stroke="#000" stroke-width="1.35"/>
<line x1="835.02" y1="814.3" x2="835.02" y2="820.1" stroke="#000" stroke-width="1.35"/>
<line x1="904.16" y1="814.3" x2="904.16" y2="820.1" stroke="#000" stroke-width="1.35"/>
<line x1="973.30" y1="814.3" x2="973.30" y2="820.1" stroke="#000" stroke-width="1.35"/>
<rect x="1076.3" y="19.3" width="396.1" height="795.0" fill="none" stroke="#000" stroke-width="1.4"/>
<line x1="1070.5" y1="19.30" x2="1076.3" y2="19.30" stroke="#000" stroke-width="1.35"/>
<line x1="1070.5" y1="68.99" x2="1076.3" y2="68.99" stroke="#000" stroke-width="1.35"/>
<line x1="1070.5" y1="118.67" x2="1076.3" y2="118.67" stroke="#000" stroke-width="1.35"/>
<line x1="1070.5" y1="168.36" x2="1076.3" y2="168.36" stroke="#000" stroke-width="1.35"/>
<line x1="1070.5" y1="218.05" x2="1076.3" y2="218.05" stroke="#000" stroke-width="1.35"/>
<line x1="1070.5" y1="267.74" x2="1076.3" y2="267.74" stroke="#000" stroke-width="1.35"/>
<line x1="1070.5" y1="317.43" x2="1076.3" y2="317.43" stroke="#000" stroke-width="1.35"/>
<line x1="1070.5" y1="367.11" x2="1076.3" y2="367.11" stroke="#000" stroke-width="1.35"/>
<line x1="1070.5" y1="416.80" x2="1076.3" y2="416.80" stroke="#000" stroke-width="1.35"/>
<line x1="1070.5" y1="466.49" x2="1076.3" y2="466.49" stroke="#000" stroke-width="1.35"/>
<line x1="1070.5" y1="516.17" x2="1076.3" y2="516.17" stroke="#000" stroke-width="1.35"/>
<line x1="1070.5" y1="565.86" x2="1076.3" y2="565.86" stroke="#000" stroke-width="1.35"/>
<line x1="1070.5" y1="615.55" x2="1076.3" y2="615.55" stroke="#000" stroke-width="1.35"/>
<line x1="1070.5" y1="665.24" x2="1076.3" y2="665.24" stroke="#000" stroke-width="1.35"/>
<line x1="1070.5" y1="714.92" x2="1076.3" y2="714.92" stroke="#000" stroke-width="1.35"/>
<line x1="1070.5" y1="764.61" x2="1076.3" y2="764.61" stroke="#000" stroke-width="1.35"/>
<line x1="1120.40" y1="814.3" x2="1120.40" y2="820.1" stroke="#000" stroke-width="1.35"/>
<line x1="1187.36" y1="814.3" x2="1187.36" y2="820.1" stroke="#000" stroke-width="1.35"/>
<line x1="1254.32" y1="814.3" x2="1254.32" y2="820.1" stroke="#000" stroke-width="1.35"/>
<line x1="1321.28" y1="814.3" x2="1321.28" y2="820.1" stroke="#000" stroke-width="1.35"/>
<line x1="1388.24" y1="814.3" x2="1388.24" y2="820.1" stroke="#000" stroke-width="1.35"/>
<line x1="1455.20" y1="814.3" x2="1455.20" y2="820.1" stroke="#000" stroke-width="1.35"/>
<text x="76" y="26.5" text-anchor="end" font-size="17.6" fill="#000" textLength="10.6" lengthAdjust="spacingAndGlyphs">0</text>
<text x="76" y="76.2" text-anchor="end" font-size="17.6" fill="#000" textLength="21.2" lengthAdjust="spacingAndGlyphs">25</text>
<text x="76" y="125.9" text-anchor="end" font-size="17.6" fill="#000" textLength="21.2" lengthAdjust="spacingAndGlyphs">50</text>
<text x="76" y="175.6" text-anchor="end" font-size="17.6" fill="#000" textLength="21.2" lengthAdjust="spacingAndGlyphs">75</text>
<text x="76" y="225.2" text-anchor="end" font-size="17.6" fill="#000" textLength="31.8" lengthAdjust="spacingAndGlyphs">100</text>
<text x="76" y="274.9" text-anchor="end" font-size="17.6" fill="#000" textLength="31.8" lengthAdjust="spacingAndGlyphs">125</text>
<text x="76" y="324.6" text-anchor="end" font-size="17.6" fill="#000" textLength="31.8" lengthAdjust="spacingAndGlyphs">150</text>
<text x="76" y="374.3" text-anchor="end" font-size="17.6" fill="#000" textLength="31.8" lengthAdjust="spacingAndGlyphs">175</text>
<text x="76" y="424.0" text-anchor="end" font-size="17.6" fill="#000" textLength="31.8" lengthAdjust="spacingAndGlyphs">200</text>
<text x="76" y="473.7" text-anchor="end" font-size="17.6" fill="#000" textLength="31.8" lengthAdjust="spacingAndGlyphs">225</text>
<text x="76" y="523.4" text-anchor="end" font-size="17.6" fill="#000" textLength="31.8" lengthAdjust="spacingAndGlyphs">250</text>
<text x="76" y="573.1" text-anchor="end" font-size="17.6" fill="#000" textLength="31.8" lengthAdjust="spacingAndGlyphs">275</text>
<text x="76" y="622.8" text-anchor="end" font-size="17.6" fill="#000" textLength="31.8" lengthAdjust="spacingAndGlyphs">300</text>
<text x="76" y="672.4" text-anchor="end" font-size="17.6" fill="#000" textLength="31.8" lengthAdjust="spacingAndGlyphs">325</text>
<text x="76" y="722.1" text-anchor="end" font-size="17.6" fill="#000" textLength="31.8" lengthAdjust="spacingAndGlyphs">350</text>
<text x="76" y="771.8" text-anchor="end" font-size="17.6" fill="#000" textLength="31.8" lengthAdjust="spacingAndGlyphs">375</text>
<text x="101.2" y="841.8" text-anchor="middle" font-size="17.6" textLength="10.6" lengthAdjust="spacingAndGlyphs">5</text>
<text x="174.8" y="841.8" text-anchor="middle" font-size="17.6" textLength="21.2" lengthAdjust="spacingAndGlyphs">10</text>
<text x="248.4" y="841.8" text-anchor="middle" font-size="17.6" textLength="21.2" lengthAdjust="spacingAndGlyphs">15</text>
<text x="322.0" y="841.8" text-anchor="middle" font-size="17.6" textLength="21.2" lengthAdjust="spacingAndGlyphs">20</text>
<text x="395.6" y="841.8" text-anchor="middle" font-size="17.6" textLength="21.2" lengthAdjust="spacingAndGlyphs">25</text>
<text x="469.2" y="841.8" text-anchor="middle" font-size="17.6" textLength="21.2" lengthAdjust="spacingAndGlyphs">30</text>
<text x="627.6" y="841.3" text-anchor="middle" font-size="17.6" textLength="37.1" lengthAdjust="spacingAndGlyphs">34.2</text>
<text x="696.7" y="841.3" text-anchor="middle" font-size="17.6" textLength="37.1" lengthAdjust="spacingAndGlyphs">34.4</text>
<text x="765.9" y="841.3" text-anchor="middle" font-size="17.6" textLength="37.1" lengthAdjust="spacingAndGlyphs">34.6</text>
<text x="835.0" y="841.3" text-anchor="middle" font-size="17.6" textLength="37.1" lengthAdjust="spacingAndGlyphs">34.8</text>
<text x="904.2" y="841.3" text-anchor="middle" font-size="17.6" textLength="37.1" lengthAdjust="spacingAndGlyphs">35.0</text>
<text x="973.3" y="841.3" text-anchor="middle" font-size="17.6" textLength="37.1" lengthAdjust="spacingAndGlyphs">35.2</text>
<g transform="translate(1118.9,850) rotate(-45)"><text x="0" y="6" text-anchor="middle" font-size="17.6" textLength="42.4" lengthAdjust="spacingAndGlyphs">1022</text></g>
<g transform="translate(1185.9,850) rotate(-45)"><text x="0" y="6" text-anchor="middle" font-size="17.6" textLength="42.4" lengthAdjust="spacingAndGlyphs">1024</text></g>
<g transform="translate(1252.8,850) rotate(-45)"><text x="0" y="6" text-anchor="middle" font-size="17.6" textLength="42.4" lengthAdjust="spacingAndGlyphs">1026</text></g>
<g transform="translate(1319.8,850) rotate(-45)"><text x="0" y="6" text-anchor="middle" font-size="17.6" textLength="42.4" lengthAdjust="spacingAndGlyphs">1028</text></g>
<g transform="translate(1386.7,850) rotate(-45)"><text x="0" y="6" text-anchor="middle" font-size="17.6" textLength="42.4" lengthAdjust="spacingAndGlyphs">1030</text></g>
<g transform="translate(1453.7,850) rotate(-45)"><text x="0" y="6" text-anchor="middle" font-size="17.6" textLength="42.4" lengthAdjust="spacingAndGlyphs">1032</text></g>
<g transform="translate(176.6,0) scale(1.12,1) translate(-176.6,0)"><text x="176.6" y="871.6" font-size="24.5" font-weight="bold">Temperature (<tspan font-weight="normal" font-style="italic" font-size="17" dy="-8">o</tspan><tspan font-weight="normal" font-style="italic" dy="8">C</tspan>)</text></g>
<text x="733" y="869.6" font-size="24.5" font-weight="bold" textLength="93.5" lengthAdjust="spacingAndGlyphs">Salinity</text>
<text x="1172" y="895.6" font-size="24.5" font-weight="bold" textLength="207.5" lengthAdjust="spacingAndGlyphs">Density (kg m-3)</text>
<g transform="translate(30,483) rotate(-90)"><text x="0" y="0" font-size="24.5" font-weight="bold" textLength="128" lengthAdjust="spacingAndGlyphs">Depth (m)</text></g>
<text x="343.1" y="918" font-size="19.5" font-style="italic" textLength="892.5" lengthAdjust="spacingAndGlyphs" xml:space="preserve">Ocean Heat Content (kJ/cm^2) - Glider: 68.2254,  RTOFS: 58.1090,  ESPC: 63.8324,  CMEMS: 68.8126,</text>
<text x="1531.4" y="36.7" font-size="24.6" font-weight="bold" textLength="378.2" lengthAdjust="spacingAndGlyphs">Comparison Date: 2025-10-25</text>
<text x="1531.4" y="89.4" font-size="24.6" font-weight="bold" textLength="168" lengthAdjust="spacingAndGlyphs">Glider: sg623</text>
<text x="1531.4" y="116" font-size="24.6" font-weight="bold" textLength="128" lengthAdjust="spacingAndGlyphs">Profiles: 9</text>
<text x="1531.4" y="142.6" font-size="24.6" font-weight="bold" textLength="337.1" lengthAdjust="spacingAndGlyphs">First: 2025-10-25 00:19:17</text>
<text x="1531.4" y="168.6" font-size="24.6" font-weight="bold" textLength="333.5" lengthAdjust="spacingAndGlyphs">Last: 2025-10-25 16:54:48</text>
<text x="1531.4" y="195.3" font-size="24.6" font-weight="bold" textLength="338.3" lengthAdjust="spacingAndGlyphs">Method: Nearest-Neighbor</text>
<defs><clipPath id="mclip"><rect x="1570.3" y="259.8" width="396.1" height="313.3"/></clipPath></defs>
<rect x="1570.3" y="259.8" width="396.1" height="313.3" fill="#98b7e2"/>
<g clip-path="url(#mclip)">
<polygon points="1671.3,259.8 1673.7,266.4 1678.2,277.3 1683.7,288.2 1687.1,295.0 1689.3,303.6 1695.7,306.8 1702.1,312.1 1707.5,318.6 1709.6,323.9 1708.0,328.2 1704.8,329.8 1700.0,329.3 1695.7,326.1 1693.0,323.0 1693.6,325.5 1696.8,330.3 1704.3,336.8 1712.8,343.2 1719.3,341.0 1721.4,345.3 1730.0,352.8 1732.1,359.3 1730.5,367.8 1734.3,372.1 1742.8,376.4 1749.3,380.7 1754.6,387.1 1756.8,391.9 1761.0,389.2 1762.6,385.5 1758.9,379.6 1753.5,374.2 1752.5,377.5 1749.3,374.2 1748.2,367.8 1742.8,355.0 1736.4,342.1 1730.0,333.6 1723.6,323.9 1720.3,317.5 1715.0,310.0 1706.4,304.6 1702.1,298.2 1702.1,291.4 1698.9,283.3 1698.9,276.0 1710.2,279.3 1719.9,284.1 1720.7,289.0 1724.0,297.9 1725.7,303.6 1730.0,311.1 1726.8,316.4 1731.0,315.3 1736.4,320.7 1742.8,327.1 1749.3,329.3 1750.3,335.7 1757.8,341.0 1763.2,345.3 1763.2,355.0 1765.0,357.1 1771.1,359.2 1778.3,366.5 1787.4,375.6 1794.7,382.9 1800.9,390.2 1805.0,396.0 1807.3,400.0 1809.3,407.7 1812.2,411.6 1809.3,418.3 1806.4,424.1 1808.3,428.9 1815.1,437.6 1823.7,441.4 1831.4,449.1 1840.1,452.0 1849.7,454.9 1861.3,462.6 1874.8,468.4 1886.4,472.3 1899.8,478.0 1914.3,481.9 1924.9,477.1 1933.6,475.2 1944.2,478.0 1955.7,488.6 1966.4,497.3 1966.4,497.3 1966.4,444.3 1955.7,446.3 1944.2,449.1 1937.4,452.0 1932.6,446.3 1923.0,444.3 1917.2,438.5 1913.3,428.9 1905.6,417.3 1899.8,405.8 1898.9,400.0 1898.3,388.4 1899.2,373.8 1902.9,359.2 1904.7,352.0 1902.0,341.0 1902.9,333.8 1906.5,326.5 1915.6,320.1 1926.6,315.5 1935.7,308.3 1944.8,304.6 1952.1,303.7 1961.2,305.5 1966.4,306.4 1966.4,259.8" fill="#d2b48c" stroke="none"/>
<polyline points="1704.2,261.1 1701.3,267.1 1695.7,272.4 1698.1,274.8" fill="none" stroke="#98b7e2" stroke-width="1.5" stroke-linejoin="round"/>
<polyline points="1705.4,263.9 1715.0,261.5 1724.0,259.9" fill="none" stroke="#98b7e2" stroke-width="1.5" stroke-linejoin="round"/>
<polyline points="1756.3,259.9 1764.0,263.0 1772.5,263.1" fill="none" stroke="#98b7e2" stroke-width="1.5" stroke-linejoin="round"/>
<polyline points="1787.1,259.9 1793.0,266.0 1795.2,274.0" fill="none" stroke="#98b7e2" stroke-width="1.5" stroke-linejoin="round"/>
<polyline points="1888.3,259.8 1902.9,273.7 1917.5,297.3 1924.7,313.7" fill="none" stroke="#98b7e2" stroke-width="1.5" stroke-linejoin="round"/>
<polyline points="1869.0,402.9 1878.6,407.7 1897.9,401.9" fill="none" stroke="#98b7e2" stroke-width="1.5" stroke-linejoin="round"/>
<polyline points="1811.2,407.7 1818.9,407.7 1828.5,417.3 1834.3,419.3 1840.1,425.1" fill="none" stroke="#98b7e2" stroke-width="1.5" stroke-linejoin="round"/>
<polyline points="1959.6,446.3 1964.4,454.0" fill="none" stroke="#98b7e2" stroke-width="1.5" stroke-linejoin="round"/>
<polyline points="1795.2,276.0 1803.3,283.3 1814.6,292.2 1817.8,300.3 1820.3,305.2 1834.8,314.5 1841.3,304.4 1847.0,302.7 1855.5,303.7 1868.3,321.0 1879.2,333.8 1882.9,346.5 1893.8,352.9 1904.7,354.7" fill="none" stroke="#98b7e2" stroke-width="1.5" stroke-linejoin="round"/>
<polyline points="1671.3,259.8 1673.7,266.4 1678.2,277.3 1683.7,288.2 1687.1,295.0 1689.3,303.6 1695.7,306.8 1702.1,312.1 1707.5,318.6 1709.6,323.9 1708.0,328.2 1704.8,329.8 1700.0,329.3 1695.7,326.1 1693.0,323.0 1693.6,325.5 1696.8,330.3 1704.3,336.8 1712.8,343.2 1719.3,341.0 1721.4,345.3 1730.0,352.8 1732.1,359.3 1730.5,367.8 1734.3,372.1 1742.8,376.4 1749.3,380.7 1754.6,387.1 1756.8,391.9 1761.0,389.2 1762.6,385.5 1758.9,379.6 1753.5,374.2 1752.5,377.5 1749.3,374.2 1748.2,367.8 1742.8,355.0 1736.4,342.1 1730.0,333.6 1723.6,323.9 1720.3,317.5 1715.0,310.0 1706.4,304.6 1702.1,298.2 1702.1,291.4 1698.9,283.3 1698.9,276.0 1710.2,279.3 1719.9,284.1 1720.7,289.0 1724.0,297.9 1725.7,303.6 1730.0,311.1 1726.8,316.4 1731.0,315.3 1736.4,320.7 1742.8,327.1 1749.3,329.3 1750.3,335.7 1757.8,341.0 1763.2,345.3 1763.2,355.0 1765.0,357.1 1771.1,359.2 1778.3,366.5 1787.4,375.6 1794.7,382.9 1800.9,390.2 1805.0,396.0 1807.3,400.0 1809.3,407.7 1812.2,411.6 1809.3,418.3 1806.4,424.1 1808.3,428.9 1815.1,437.6 1823.7,441.4 1831.4,449.1 1840.1,452.0 1849.7,454.9 1861.3,462.6 1874.8,468.4 1886.4,472.3 1899.8,478.0 1914.3,481.9 1924.9,477.1 1933.6,475.2 1944.2,478.0 1955.7,488.6 1966.4,497.3" fill="none" stroke="#000" stroke-width="2.1" stroke-linejoin="round"/>
<polyline points="1966.4,444.3 1955.7,446.3 1944.2,449.1 1937.4,452.0 1932.6,446.3 1923.0,444.3 1917.2,438.5 1913.3,428.9 1905.6,417.3 1899.8,405.8 1898.9,400.0 1898.3,388.4 1899.2,373.8 1902.9,359.2 1904.7,352.0 1902.0,341.0 1902.9,333.8 1906.5,326.5 1915.6,320.1 1926.6,315.5 1935.7,308.3 1944.8,304.6 1952.1,303.7 1961.2,305.5 1966.4,306.4" fill="none" stroke="#000" stroke-width="2.1" stroke-linejoin="round"/>
<polyline points="1905.0,352.0 1904.0,344.0 1902.5,336.0 1904.0,329.0 1909.0,323.0 1915.0,319.0 1922.0,316.0 1929.0,311.0 1935.0,307.0 1940.0,304.0" fill="none" stroke="#000" stroke-width="4.2" stroke-linejoin="round" stroke-linecap="round"/>
<circle cx="1899.8" cy="335.5" r="2.2" fill="#000"/>
<circle cx="1902.5" cy="329" r="2.2" fill="#000"/>
<circle cx="1904" cy="324" r="2" fill="#000"/>
<circle cx="1912" cy="318.6" r="2.4" fill="#000"/>
<circle cx="1916" cy="317" r="2" fill="#000"/>
<circle cx="1932.5" cy="305.5" r="2.6" fill="#000"/>
<circle cx="1944.3" cy="302.5" r="1.8" fill="#000"/>
<circle cx="1964.6" cy="304.5" r="1.8" fill="#000"/>
<polygon points="1899,360 1903.5,358 1902,368 1900,378 1898,380 1897.5,370" fill="#3f4a5a" stroke="#000" stroke-width="0.8"/>
<polyline points="1672.7,266.4 1704.2,261.1" stroke="#000" stroke-width="1.3" fill="none" stroke-dasharray="4.2,2.4"/>
<polyline points="1699.7,267.1 1722.4,275.2 1742.6,282.9 1766.9,282.9" stroke="#000" stroke-width="1.3" fill="none" stroke-dasharray="4.2,2.4"/>
<polyline points="1767.3,282.9 1777.0,282.9 1777.0,277.7 1795.2,276.4" stroke="#000" stroke-width="1.3" fill="none" stroke-dasharray="4.2,2.4"/>
<polyline points="1795.2,276.0 1803.3,283.3 1814.6,292.2 1817.8,300.3 1820.3,305.2 1834.8,314.5 1841.3,304.4 1847.0,302.7 1855.5,303.7 1868.3,321.0 1879.2,333.8 1882.9,346.5 1893.8,352.9 1904.7,354.7" stroke="#000" stroke-width="1.3" fill="none" stroke-dasharray="4.2,2.4"/>
<polyline points="1767.3,259.8 1767.3,282.9" stroke="#000" stroke-width="1.3" fill="none"/>
<polyline points="1795.2,274.0 1837.2,274.0 1837.2,259.8" stroke="#000" stroke-width="1.3" fill="none"/>
<polyline points="1942.0,259.8 1944.0,270.0 1946.6,286.4 1944.8,303.0" stroke="#000" stroke-width="1.3" fill="none"/>
<ellipse cx="1717" cy="311" rx="2.6" ry="5.5" transform="rotate(-30 1717 311)" fill="#000"/>
<ellipse cx="1659.7" cy="314.1" rx="1.6" ry="2.6" fill="#000"/>
<ellipse cx="1657.7" cy="262.2" rx="1.5" ry="1.2" fill="#000"/>
<circle cx="1691.5" cy="323.4" r="1.5" fill="#000"/>
<circle cx="1701.4" cy="449" r="1.3" fill="#000"/>
<circle cx="1744.7" cy="443.9" r="1.8" fill="#000"/>
<circle cx="1747.2" cy="437.4" r="1" fill="#000"/>
<circle cx="1765.5" cy="545.7" r="1" fill="none" stroke="#555" stroke-width="0.6"/>
<ellipse cx="1797" cy="410.4" rx="1.3" ry="3.6" transform="rotate(-50 1797 410.4)" fill="#000"/>
</g>
<circle cx="1780.1" cy="397.4" r="4.2" fill="#ff0000" stroke="#000" stroke-width="1.4"/>
<rect x="1570.3" y="259.8" width="396.1" height="313.3" fill="none" stroke="#000" stroke-width="1.4"/>
<line x1="1570.6" y1="573.1" x2="1570.6" y2="576.3000000000001" stroke="#000" stroke-width="1.4"/>
<line x1="1570.6" y1="259.8" x2="1570.6" y2="256.6" stroke="#000" stroke-width="1.4"/>
<line x1="1582.2" y1="573.1" x2="1582.2" y2="581.6" stroke="#000" stroke-width="2.3"/>
<line x1="1582.2" y1="259.8" x2="1582.2" y2="251.3" stroke="#000" stroke-width="2.3"/>
<line x1="1593.9" y1="573.1" x2="1593.9" y2="576.3000000000001" stroke="#000" stroke-width="1.4"/>
<line x1="1593.9" y1="259.8" x2="1593.9" y2="256.6" stroke="#000" stroke-width="1.4"/>
<line x1="1605.5" y1="573.1" x2="1605.5" y2="576.3000000000001" stroke="#000" stroke-width="1.4"/>
<line x1="1605.5" y1="259.8" x2="1605.5" y2="256.6" stroke="#000" stroke-width="1.4"/>
<line x1="1617.1" y1="573.1" x2="1617.1" y2="576.3000000000001" stroke="#000" stroke-width="1.4"/>
<line x1="1617.1" y1="259.8" x2="1617.1" y2="256.6" stroke="#000" stroke-width="1.4"/>
<line x1="1628.8" y1="573.1" x2="1628.8" y2="576.3000000000001" stroke="#000" stroke-width="1.4"/>
<line x1="1628.8" y1="259.8" x2="1628.8" y2="256.6" stroke="#000" stroke-width="1.4"/>
<line x1="1640.4" y1="573.1" x2="1640.4" y2="581.6" stroke="#000" stroke-width="2.3"/>
<line x1="1640.4" y1="259.8" x2="1640.4" y2="251.3" stroke="#000" stroke-width="2.3"/>
<line x1="1652.0" y1="573.1" x2="1652.0" y2="576.3000000000001" stroke="#000" stroke-width="1.4"/>
<line x1="1652.0" y1="259.8" x2="1652.0" y2="256.6" stroke="#000" stroke-width="1.4"/>
<line x1="1663.6" y1="573.1" x2="1663.6" y2="576.3000000000001" stroke="#000" stroke-width="1.4"/>
<line x1="1663.6" y1="259.8" x2="1663.6" y2="256.6" stroke="#000" stroke-width="1.4"/>
<line x1="1675.3" y1="573.1" x2="1675.3" y2="576.3000000000001" stroke="#000" stroke-width="1.4"/>
<line x1="1675.3" y1="259.8" x2="1675.3" y2="256.6" stroke="#000" stroke-width="1.4"/>
<line x1="1686.9" y1="573.1" x2="1686.9" y2="576.3000000000001" stroke="#000" stroke-width="1.4"/>
<line x1="1686.9" y1="259.8" x2="1686.9" y2="256.6" stroke="#000" stroke-width="1.4"/>
<line x1="1698.5" y1="573.1" x2="1698.5" y2="581.6" stroke="#000" stroke-width="2.3"/>
<line x1="1698.5" y1="259.8" x2="1698.5" y2="251.3" stroke="#000" stroke-width="2.3"/>
<line x1="1710.2" y1="573.1" x2="1710.2" y2="576.3000000000001" stroke="#000" stroke-width="1.4"/>
<line x1="1710.2" y1="259.8" x2="1710.2" y2="256.6" stroke="#000" stroke-width="1.4"/>
<line x1="1721.8" y1="573.1" x2="1721.8" y2="576.3000000000001" stroke="#000" stroke-width="1.4"/>
<line x1="1721.8" y1="259.8" x2="1721.8" y2="256.6" stroke="#000" stroke-width="1.4"/>
<line x1="1733.4" y1="573.1" x2="1733.4" y2="576.3000000000001" stroke="#000" stroke-width="1.4"/>
<line x1="1733.4" y1="259.8" x2="1733.4" y2="256.6" stroke="#000" stroke-width="1.4"/>
<line x1="1745.0" y1="573.1" x2="1745.0" y2="576.3000000000001" stroke="#000" stroke-width="1.4"/>
<line x1="1745.0" y1="259.8" x2="1745.0" y2="256.6" stroke="#000" stroke-width="1.4"/>
<line x1="1756.7" y1="573.1" x2="1756.7" y2="581.6" stroke="#000" stroke-width="2.3"/>
<line x1="1756.7" y1="259.8" x2="1756.7" y2="251.3" stroke="#000" stroke-width="2.3"/>
<line x1="1768.3" y1="573.1" x2="1768.3" y2="576.3000000000001" stroke="#000" stroke-width="1.4"/>
<line x1="1768.3" y1="259.8" x2="1768.3" y2="256.6" stroke="#000" stroke-width="1.4"/>
<line x1="1779.9" y1="573.1" x2="1779.9" y2="576.3000000000001" stroke="#000" stroke-width="1.4"/>
<line x1="1779.9" y1="259.8" x2="1779.9" y2="256.6" stroke="#000" stroke-width="1.4"/>
<line x1="1791.6" y1="573.1" x2="1791.6" y2="576.3000000000001" stroke="#000" stroke-width="1.4"/>
<line x1="1791.6" y1="259.8" x2="1791.6" y2="256.6" stroke="#000" stroke-width="1.4"/>
<line x1="1803.2" y1="573.1" x2="1803.2" y2="576.3000000000001" stroke="#000" stroke-width="1.4"/>
<line x1="1803.2" y1="259.8" x2="1803.2" y2="256.6" stroke="#000" stroke-width="1.4"/>
<line x1="1814.8" y1="573.1" x2="1814.8" y2="581.6" stroke="#000" stroke-width="2.3"/>
<line x1="1814.8" y1="259.8" x2="1814.8" y2="251.3" stroke="#000" stroke-width="2.3"/>
<line x1="1826.5" y1="573.1" x2="1826.5" y2="576.3000000000001" stroke="#000" stroke-width="1.4"/>
<line x1="1826.5" y1="259.8" x2="1826.5" y2="256.6" stroke="#000" stroke-width="1.4"/>
<line x1="1838.1" y1="573.1" x2="1838.1" y2="576.3000000000001" stroke="#000" stroke-width="1.4"/>
<line x1="1838.1" y1="259.8" x2="1838.1" y2="256.6" stroke="#000" stroke-width="1.4"/>
<line x1="1849.7" y1="573.1" x2="1849.7" y2="576.3000000000001" stroke="#000" stroke-width="1.4"/>
<line x1="1849.7" y1="259.8" x2="1849.7" y2="256.6" stroke="#000" stroke-width="1.4"/>
<line x1="1861.3" y1="573.1" x2="1861.3" y2="576.3000000000001" stroke="#000" stroke-width="1.4"/>
<line x1="1861.3" y1="259.8" x2="1861.3" y2="256.6" stroke="#000" stroke-width="1.4"/>
<line x1="1873.0" y1="573.1" x2="1873.0" y2="581.6" stroke="#000" stroke-width="2.3"/>
<line x1="1873.0" y1="259.8" x2="1873.0" y2="251.3" stroke="#000" stroke-width="2.3"/>
<line x1="1884.6" y1="573.1" x2="1884.6" y2="576.3000000000001" stroke="#000" stroke-width="1.4"/>
<line x1="1884.6" y1="259.8" x2="1884.6" y2="256.6" stroke="#000" stroke-width="1.4"/>
<line x1="1896.2" y1="573.1" x2="1896.2" y2="576.3000000000001" stroke="#000" stroke-width="1.4"/>
<line x1="1896.2" y1="259.8" x2="1896.2" y2="256.6" stroke="#000" stroke-width="1.4"/>
<line x1="1907.9" y1="573.1" x2="1907.9" y2="576.3000000000001" stroke="#000" stroke-width="1.4"/>
<line x1="1907.9" y1="259.8" x2="1907.9" y2="256.6" stroke="#000" stroke-width="1.4"/>
<line x1="1919.5" y1="573.1" x2="1919.5" y2="576.3000000000001" stroke="#000" stroke-width="1.4"/>
<line x1="1919.5" y1="259.8" x2="1919.5" y2="256.6" stroke="#000" stroke-width="1.4"/>
<line x1="1931.1" y1="573.1" x2="1931.1" y2="581.6" stroke="#000" stroke-width="2.3"/>
<line x1="1931.1" y1="259.8" x2="1931.1" y2="251.3" stroke="#000" stroke-width="2.3"/>
<line x1="1942.8" y1="573.1" x2="1942.8" y2="576.3000000000001" stroke="#000" stroke-width="1.4"/>
<line x1="1942.8" y1="259.8" x2="1942.8" y2="256.6" stroke="#000" stroke-width="1.4"/>
<line x1="1954.4" y1="573.1" x2="1954.4" y2="576.3000000000001" stroke="#000" stroke-width="1.4"/>
<line x1="1954.4" y1="259.8" x2="1954.4" y2="256.6" stroke="#000" stroke-width="1.4"/>
<line x1="1966.0" y1="573.1" x2="1966.0" y2="576.3000000000001" stroke="#000" stroke-width="1.4"/>
<line x1="1966.0" y1="259.8" x2="1966.0" y2="256.6" stroke="#000" stroke-width="1.4"/>
<line x1="1570.3" y1="573.1" x2="1567.1" y2="573.1" stroke="#000" stroke-width="1.4"/>
<line x1="1966.4" y1="573.1" x2="1969.6000000000001" y2="573.1" stroke="#000" stroke-width="1.4"/>
<line x1="1570.3" y1="561.4" x2="1567.1" y2="561.4" stroke="#000" stroke-width="1.4"/>
<line x1="1966.4" y1="561.4" x2="1969.6000000000001" y2="561.4" stroke="#000" stroke-width="1.4"/>
<line x1="1570.3" y1="549.6" x2="1561.8" y2="549.6" stroke="#000" stroke-width="2.3"/>
<line x1="1966.4" y1="549.6" x2="1974.9" y2="549.6" stroke="#000" stroke-width="2.3"/>
<line x1="1570.3" y1="537.8" x2="1567.1" y2="537.8" stroke="#000" stroke-width="1.4"/>
<line x1="1966.4" y1="537.8" x2="1969.6000000000001" y2="537.8" stroke="#000" stroke-width="1.4"/>
<line x1="1570.3" y1="525.9" x2="1567.1" y2="525.9" stroke="#000" stroke-width="1.4"/>
<line x1="1966.4" y1="525.9" x2="1969.6000000000001" y2="525.9" stroke="#000" stroke-width="1.4"/>
<line x1="1570.3" y1="514.0" x2="1567.1" y2="514.0" stroke="#000" stroke-width="1.4"/>
<line x1="1966.4" y1="514.0" x2="1969.6000000000001" y2="514.0" stroke="#000" stroke-width="1.4"/>
<line x1="1570.3" y1="502.1" x2="1567.1" y2="502.1" stroke="#000" stroke-width="1.4"/>
<line x1="1966.4" y1="502.1" x2="1969.6000000000001" y2="502.1" stroke="#000" stroke-width="1.4"/>
<line x1="1570.3" y1="490.1" x2="1561.8" y2="490.1" stroke="#000" stroke-width="2.3"/>
<line x1="1966.4" y1="490.1" x2="1974.9" y2="490.1" stroke="#000" stroke-width="2.3"/>
<line x1="1570.3" y1="478.0" x2="1567.1" y2="478.0" stroke="#000" stroke-width="1.4"/>
<line x1="1966.4" y1="478.0" x2="1969.6000000000001" y2="478.0" stroke="#000" stroke-width="1.4"/>
<line x1="1570.3" y1="465.9" x2="1567.1" y2="465.9" stroke="#000" stroke-width="1.4"/>
<line x1="1966.4" y1="465.9" x2="1969.6000000000001" y2="465.9" stroke="#000" stroke-width="1.4"/>
<line x1="1570.3" y1="453.7" x2="1567.1" y2="453.7" stroke="#000" stroke-width="1.4"/>
<line x1="1966.4" y1="453.7" x2="1969.6000000000001" y2="453.7" stroke="#000" stroke-width="1.4"/>
<line x1="1570.3" y1="441.5" x2="1567.1" y2="441.5" stroke="#000" stroke-width="1.4"/>
<line x1="1966.4" y1="441.5" x2="1969.6000000000001" y2="441.5" stroke="#000" stroke-width="1.4"/>
<line x1="1570.3" y1="429.1" x2="1561.8" y2="429.1" stroke="#000" stroke-width="2.3"/>
<line x1="1966.4" y1="429.1" x2="1974.9" y2="429.1" stroke="#000" stroke-width="2.3"/>
<line x1="1570.3" y1="416.7" x2="1567.1" y2="416.7" stroke="#000" stroke-width="1.4"/>
<line x1="1966.4" y1="416.7" x2="1969.6000000000001" y2="416.7" stroke="#000" stroke-width="1.4"/>
<line x1="1570.3" y1="404.2" x2="1567.1" y2="404.2" stroke="#000" stroke-width="1.4"/>
<line x1="1966.4" y1="404.2" x2="1969.6000000000001" y2="404.2" stroke="#000" stroke-width="1.4"/>
<line x1="1570.3" y1="391.6" x2="1567.1" y2="391.6" stroke="#000" stroke-width="1.4"/>
<line x1="1966.4" y1="391.6" x2="1969.6000000000001" y2="391.6" stroke="#000" stroke-width="1.4"/>
<line x1="1570.3" y1="379.0" x2="1567.1" y2="379.0" stroke="#000" stroke-width="1.4"/>
<line x1="1966.4" y1="379.0" x2="1969.6000000000001" y2="379.0" stroke="#000" stroke-width="1.4"/>
<line x1="1570.3" y1="366.2" x2="1561.8" y2="366.2" stroke="#000" stroke-width="2.3"/>
<line x1="1966.4" y1="366.2" x2="1974.9" y2="366.2" stroke="#000" stroke-width="2.3"/>
<line x1="1570.3" y1="353.3" x2="1567.1" y2="353.3" stroke="#000" stroke-width="1.4"/>
<line x1="1966.4" y1="353.3" x2="1969.6000000000001" y2="353.3" stroke="#000" stroke-width="1.4"/>
<line x1="1570.3" y1="340.3" x2="1567.1" y2="340.3" stroke="#000" stroke-width="1.4"/>
<line x1="1966.4" y1="340.3" x2="1969.6000000000001" y2="340.3" stroke="#000" stroke-width="1.4"/>
<line x1="1570.3" y1="327.2" x2="1567.1" y2="327.2" stroke="#000" stroke-width="1.4"/>
<line x1="1966.4" y1="327.2" x2="1969.6000000000001" y2="327.2" stroke="#000" stroke-width="1.4"/>
<line x1="1570.3" y1="314.0" x2="1567.1" y2="314.0" stroke="#000" stroke-width="1.4"/>
<line x1="1966.4" y1="314.0" x2="1969.6000000000001" y2="314.0" stroke="#000" stroke-width="1.4"/>
<line x1="1570.3" y1="300.7" x2="1561.8" y2="300.7" stroke="#000" stroke-width="2.3"/>
<line x1="1966.4" y1="300.7" x2="1974.9" y2="300.7" stroke="#000" stroke-width="2.3"/>
<line x1="1570.3" y1="287.2" x2="1567.1" y2="287.2" stroke="#000" stroke-width="1.4"/>
<line x1="1966.4" y1="287.2" x2="1969.6000000000001" y2="287.2" stroke="#000" stroke-width="1.4"/>
<line x1="1570.3" y1="273.6" x2="1567.1" y2="273.6" stroke="#000" stroke-width="1.4"/>
<line x1="1966.4" y1="273.6" x2="1969.6000000000001" y2="273.6" stroke="#000" stroke-width="1.4"/>
<line x1="1570.3" y1="259.8" x2="1567.1" y2="259.8" stroke="#000" stroke-width="1.4"/>
<line x1="1966.4" y1="259.8" x2="1969.6000000000001" y2="259.8" stroke="#000" stroke-width="1.4"/>
<text x="1553.5" y="557.9" text-anchor="end" font-size="22.9" textLength="53.4" lengthAdjust="spacingAndGlyphs">10°N</text>
<text x="1553.5" y="498.4" text-anchor="end" font-size="22.9" textLength="53.4" lengthAdjust="spacingAndGlyphs">15°N</text>
<text x="1553.5" y="437.4" text-anchor="end" font-size="22.9" textLength="53.4" lengthAdjust="spacingAndGlyphs">20°N</text>
<text x="1553.5" y="374.5" text-anchor="end" font-size="22.9" textLength="53.4" lengthAdjust="spacingAndGlyphs">25°N</text>
<text x="1553.5" y="309.0" text-anchor="end" font-size="22.9" textLength="53.4" lengthAdjust="spacingAndGlyphs">30°N</text>
<g transform="translate(1579.7,624.1) rotate(-45)"><text x="0" y="7.8" text-anchor="middle" font-size="23.5" textLength="74.6" lengthAdjust="spacingAndGlyphs">125°W</text></g>
<g transform="translate(1637.9,624.1) rotate(-45)"><text x="0" y="7.8" text-anchor="middle" font-size="23.5" textLength="74.6" lengthAdjust="spacingAndGlyphs">120°W</text></g>
<g transform="translate(1696.0,624.1) rotate(-45)"><text x="0" y="7.8" text-anchor="middle" font-size="23.5" textLength="74.6" lengthAdjust="spacingAndGlyphs">115°W</text></g>
<g transform="translate(1754.2,624.1) rotate(-45)"><text x="0" y="7.8" text-anchor="middle" font-size="23.5" textLength="74.6" lengthAdjust="spacingAndGlyphs">110°W</text></g>
<g transform="translate(1812.3,624.1) rotate(-45)"><text x="0" y="7.8" text-anchor="middle" font-size="23.5" textLength="74.6" lengthAdjust="spacingAndGlyphs">105°W</text></g>
<g transform="translate(1870.5,624.1) rotate(-45)"><text x="0" y="7.8" text-anchor="middle" font-size="23.5" textLength="74.6" lengthAdjust="spacingAndGlyphs">100°W</text></g>
<g transform="translate(1928.6,619.2) rotate(-45)"><text x="0" y="7.8" text-anchor="middle" font-size="23.5" textLength="60.8" lengthAdjust="spacingAndGlyphs">95°W</text></g>
<rect x="1686.4" y="658.2" width="163.4" height="143.2" rx="3.5" ry="3.5" fill="#ffffff" fill-opacity="0.8" stroke="#d0d0d0" stroke-width="1.9"/>
<line x1="1694.2" y1="677.5" x2="1741.9" y2="677.5" stroke="#0000ff" stroke-width="2.6"/>
<circle cx="1717.7" cy="677.5" r="5.8" fill="#0000ff"/>
<text x="1757.3" y="685.5" font-size="21.2" textLength="70" lengthAdjust="spacingAndGlyphs">sg623</text>
<line x1="1694.2" y1="712.4" x2="1741.9" y2="712.4" stroke="#ff0000" stroke-width="2.6"/>
<circle cx="1717.7" cy="712.4" r="5.8" fill="#ff0000"/>
<text x="1757.3" y="720.1" font-size="21.2" textLength="73.5" lengthAdjust="spacingAndGlyphs">RTOFS</text>
<line x1="1694.2" y1="746.5" x2="1741.9" y2="746.5" stroke="#008000" stroke-width="2.6"/>
<circle cx="1717.7" cy="746.5" r="5.8" fill="#008000"/>
<text x="1757.3" y="754.3" font-size="21.2" textLength="60" lengthAdjust="spacingAndGlyphs">ESPC</text>
<line x1="1694.2" y1="780.1" x2="1741.9" y2="780.1" stroke="#ff00ff" stroke-width="2.6"/>
<circle cx="1717.7" cy="780.1" r="5.8" fill="#ff00ff"/>
<text x="1757.3" y="788.3" font-size="21.2" textLength="84.5" lengthAdjust="spacingAndGlyphs">CMEMS</text>
</svg>
</body></html>
